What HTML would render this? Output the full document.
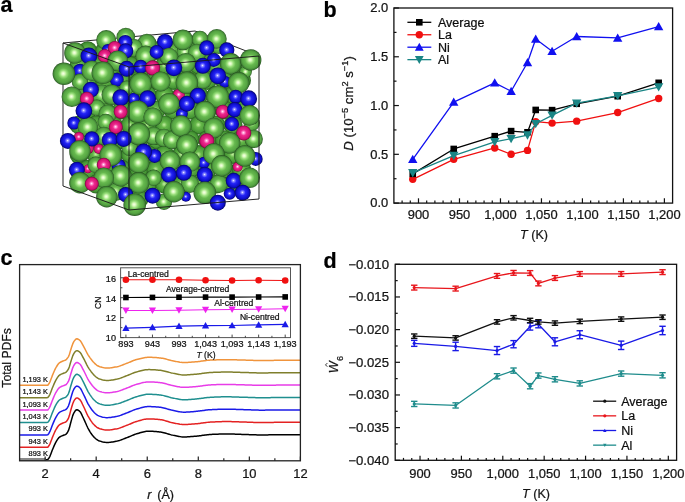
<!DOCTYPE html>
<html><head><meta charset="utf-8"><style>
html,body{margin:0;padding:0;background:#fff;width:685px;height:502px;overflow:hidden}
svg{display:block;font-family:"Liberation Sans", sans-serif;will-change:transform}
text{stroke:currentColor;stroke-width:0.22px}
</style></head><body>
<svg width="685" height="502" viewBox="0 0 685 502">
<defs>
<radialGradient id="gG" cx="0.5" cy="0.5" r="0.5" fx="0.47" fy="0.49"><stop offset="0" stop-color="#f8ffea"/><stop offset="0.13" stop-color="#dcfac0"/><stop offset="0.3" stop-color="#98de7a"/><stop offset="0.5" stop-color="#66b84e"/><stop offset="0.78" stop-color="#55a442"/><stop offset="0.91" stop-color="#418236"/><stop offset="1" stop-color="#24501c"/></radialGradient>
<radialGradient id="gB" cx="0.5" cy="0.5" r="0.5" fx="0.48" fy="0.48"><stop offset="0" stop-color="#f0f0ff"/><stop offset="0.14" stop-color="#8c8cff"/><stop offset="0.38" stop-color="#2424f6"/><stop offset="0.8" stop-color="#0c0cc8"/><stop offset="1" stop-color="#040460"/></radialGradient>
<radialGradient id="gM" cx="0.5" cy="0.5" r="0.5" fx="0.48" fy="0.48"><stop offset="0" stop-color="#fff0fa"/><stop offset="0.15" stop-color="#ff9ad4"/><stop offset="0.38" stop-color="#ee2a8e"/><stop offset="0.8" stop-color="#d21272"/><stop offset="1" stop-color="#700638"/></radialGradient>
<radialGradient id="gGd" cx="0.5" cy="0.5" r="0.5" fx="0.47" fy="0.49"><stop offset="0" stop-color="#c4f0a0"/><stop offset="0.3" stop-color="#66b84a"/><stop offset="0.8" stop-color="#449434"/><stop offset="1" stop-color="#28601e"/></radialGradient>
</defs>
<rect width="685" height="502" fill="#fff"/>
<text x="0.5" y="12" font-size="21.5" font-weight="bold" fill="#000">a</text>
<line x1="63" y1="43" x2="195" y2="31" stroke="#1a1a1a" stroke-width="0.95"/>
<line x1="195" y1="31" x2="259" y2="56" stroke="#1a1a1a" stroke-width="0.95"/>
<line x1="63" y1="43" x2="63" y2="186" stroke="#1a1a1a" stroke-width="0.95"/>
<circle cx="87.7" cy="50.8" r="9.5" fill="url(#gGd)"/>
<circle cx="104.8" cy="50.8" r="9.5" fill="url(#gGd)"/>
<circle cx="121.8" cy="50.8" r="9.5" fill="url(#gGd)"/>
<circle cx="138.9" cy="50.8" r="9.5" fill="url(#gGd)"/>
<circle cx="156.0" cy="50.8" r="9.5" fill="url(#gGd)"/>
<circle cx="173.1" cy="50.8" r="9.5" fill="url(#gGd)"/>
<circle cx="190.2" cy="50.8" r="9.5" fill="url(#gGd)"/>
<circle cx="207.3" cy="50.8" r="9.5" fill="url(#gGd)"/>
<circle cx="79.1" cy="65.6" r="9.5" fill="url(#gGd)"/>
<circle cx="96.2" cy="65.6" r="9.5" fill="url(#gGd)"/>
<circle cx="113.3" cy="65.6" r="9.5" fill="url(#gGd)"/>
<circle cx="130.4" cy="65.6" r="9.5" fill="url(#gGd)"/>
<circle cx="147.5" cy="65.6" r="9.5" fill="url(#gGd)"/>
<circle cx="164.6" cy="65.6" r="9.5" fill="url(#gGd)"/>
<circle cx="181.7" cy="65.6" r="9.5" fill="url(#gGd)"/>
<circle cx="198.8" cy="65.6" r="9.5" fill="url(#gGd)"/>
<circle cx="215.9" cy="65.6" r="9.5" fill="url(#gGd)"/>
<circle cx="233.0" cy="65.6" r="9.5" fill="url(#gGd)"/>
<circle cx="87.7" cy="80.4" r="9.5" fill="url(#gGd)"/>
<circle cx="104.8" cy="80.4" r="9.5" fill="url(#gGd)"/>
<circle cx="121.8" cy="80.4" r="9.5" fill="url(#gGd)"/>
<circle cx="138.9" cy="80.4" r="9.5" fill="url(#gGd)"/>
<circle cx="156.0" cy="80.4" r="9.5" fill="url(#gGd)"/>
<circle cx="173.1" cy="80.4" r="9.5" fill="url(#gGd)"/>
<circle cx="190.2" cy="80.4" r="9.5" fill="url(#gGd)"/>
<circle cx="207.3" cy="80.4" r="9.5" fill="url(#gGd)"/>
<circle cx="224.4" cy="80.4" r="9.5" fill="url(#gGd)"/>
<circle cx="241.5" cy="80.4" r="9.5" fill="url(#gGd)"/>
<circle cx="79.1" cy="95.2" r="9.5" fill="url(#gGd)"/>
<circle cx="96.2" cy="95.2" r="9.5" fill="url(#gGd)"/>
<circle cx="113.3" cy="95.2" r="9.5" fill="url(#gGd)"/>
<circle cx="130.4" cy="95.2" r="9.5" fill="url(#gGd)"/>
<circle cx="147.5" cy="95.2" r="9.5" fill="url(#gGd)"/>
<circle cx="164.6" cy="95.2" r="9.5" fill="url(#gGd)"/>
<circle cx="181.7" cy="95.2" r="9.5" fill="url(#gGd)"/>
<circle cx="198.8" cy="95.2" r="9.5" fill="url(#gGd)"/>
<circle cx="215.9" cy="95.2" r="9.5" fill="url(#gGd)"/>
<circle cx="233.0" cy="95.2" r="9.5" fill="url(#gGd)"/>
<circle cx="87.7" cy="110.0" r="9.5" fill="url(#gGd)"/>
<circle cx="104.8" cy="110.0" r="9.5" fill="url(#gGd)"/>
<circle cx="121.8" cy="110.0" r="9.5" fill="url(#gGd)"/>
<circle cx="138.9" cy="110.0" r="9.5" fill="url(#gGd)"/>
<circle cx="156.0" cy="110.0" r="9.5" fill="url(#gGd)"/>
<circle cx="173.1" cy="110.0" r="9.5" fill="url(#gGd)"/>
<circle cx="190.2" cy="110.0" r="9.5" fill="url(#gGd)"/>
<circle cx="207.3" cy="110.0" r="9.5" fill="url(#gGd)"/>
<circle cx="224.4" cy="110.0" r="9.5" fill="url(#gGd)"/>
<circle cx="241.5" cy="110.0" r="9.5" fill="url(#gGd)"/>
<circle cx="79.1" cy="124.9" r="9.5" fill="url(#gGd)"/>
<circle cx="96.2" cy="124.9" r="9.5" fill="url(#gGd)"/>
<circle cx="113.3" cy="124.9" r="9.5" fill="url(#gGd)"/>
<circle cx="130.4" cy="124.9" r="9.5" fill="url(#gGd)"/>
<circle cx="147.5" cy="124.9" r="9.5" fill="url(#gGd)"/>
<circle cx="164.6" cy="124.9" r="9.5" fill="url(#gGd)"/>
<circle cx="181.7" cy="124.9" r="9.5" fill="url(#gGd)"/>
<circle cx="198.8" cy="124.9" r="9.5" fill="url(#gGd)"/>
<circle cx="215.9" cy="124.9" r="9.5" fill="url(#gGd)"/>
<circle cx="233.0" cy="124.9" r="9.5" fill="url(#gGd)"/>
<circle cx="87.7" cy="139.7" r="9.5" fill="url(#gGd)"/>
<circle cx="104.8" cy="139.7" r="9.5" fill="url(#gGd)"/>
<circle cx="121.8" cy="139.7" r="9.5" fill="url(#gGd)"/>
<circle cx="138.9" cy="139.7" r="9.5" fill="url(#gGd)"/>
<circle cx="156.0" cy="139.7" r="9.5" fill="url(#gGd)"/>
<circle cx="173.1" cy="139.7" r="9.5" fill="url(#gGd)"/>
<circle cx="190.2" cy="139.7" r="9.5" fill="url(#gGd)"/>
<circle cx="207.3" cy="139.7" r="9.5" fill="url(#gGd)"/>
<circle cx="224.4" cy="139.7" r="9.5" fill="url(#gGd)"/>
<circle cx="241.5" cy="139.7" r="9.5" fill="url(#gGd)"/>
<circle cx="79.1" cy="154.5" r="9.5" fill="url(#gGd)"/>
<circle cx="96.2" cy="154.5" r="9.5" fill="url(#gGd)"/>
<circle cx="113.3" cy="154.5" r="9.5" fill="url(#gGd)"/>
<circle cx="130.4" cy="154.5" r="9.5" fill="url(#gGd)"/>
<circle cx="147.5" cy="154.5" r="9.5" fill="url(#gGd)"/>
<circle cx="164.6" cy="154.5" r="9.5" fill="url(#gGd)"/>
<circle cx="181.7" cy="154.5" r="9.5" fill="url(#gGd)"/>
<circle cx="198.8" cy="154.5" r="9.5" fill="url(#gGd)"/>
<circle cx="215.9" cy="154.5" r="9.5" fill="url(#gGd)"/>
<circle cx="233.0" cy="154.5" r="9.5" fill="url(#gGd)"/>
<circle cx="87.7" cy="169.3" r="9.5" fill="url(#gGd)"/>
<circle cx="104.8" cy="169.3" r="9.5" fill="url(#gGd)"/>
<circle cx="121.8" cy="169.3" r="9.5" fill="url(#gGd)"/>
<circle cx="138.9" cy="169.3" r="9.5" fill="url(#gGd)"/>
<circle cx="156.0" cy="169.3" r="9.5" fill="url(#gGd)"/>
<circle cx="173.1" cy="169.3" r="9.5" fill="url(#gGd)"/>
<circle cx="190.2" cy="169.3" r="9.5" fill="url(#gGd)"/>
<circle cx="207.3" cy="169.3" r="9.5" fill="url(#gGd)"/>
<circle cx="224.4" cy="169.3" r="9.5" fill="url(#gGd)"/>
<circle cx="241.5" cy="169.3" r="9.5" fill="url(#gGd)"/>
<circle cx="96.2" cy="184.1" r="9.5" fill="url(#gGd)"/>
<circle cx="113.3" cy="184.1" r="9.5" fill="url(#gGd)"/>
<circle cx="130.4" cy="184.1" r="9.5" fill="url(#gGd)"/>
<circle cx="147.5" cy="184.1" r="9.5" fill="url(#gGd)"/>
<circle cx="164.6" cy="184.1" r="9.5" fill="url(#gGd)"/>
<circle cx="181.7" cy="184.1" r="9.5" fill="url(#gGd)"/>
<circle cx="198.8" cy="184.1" r="9.5" fill="url(#gGd)"/>
<circle cx="215.9" cy="184.1" r="9.5" fill="url(#gGd)"/>
<circle cx="233.0" cy="184.1" r="9.5" fill="url(#gGd)"/>
<circle cx="138.9" cy="198.9" r="9.5" fill="url(#gGd)"/>
<circle cx="106.2" cy="40.0" r="10.0" fill="url(#gG)"/>
<circle cx="125.8" cy="37.0" r="9.3" fill="url(#gG)"/>
<circle cx="146.9" cy="43.2" r="9.4" fill="url(#gG)"/>
<circle cx="107.8" cy="49.9" r="6.0" fill="url(#gB)"/>
<circle cx="133.7" cy="47.9" r="9.2" fill="url(#gG)"/>
<circle cx="79.9" cy="70.8" r="7.0" fill="url(#gB)"/>
<circle cx="79.9" cy="81.8" r="8.2" fill="url(#gG)"/>
<circle cx="116.8" cy="79.8" r="7.0" fill="url(#gB)"/>
<circle cx="156.6" cy="81.8" r="7.2" fill="url(#gG)"/>
<circle cx="101.8" cy="94.7" r="10.3" fill="url(#gG)"/>
<circle cx="126.7" cy="87.8" r="7.2" fill="url(#gG)"/>
<circle cx="133.7" cy="98.7" r="6.0" fill="url(#gB)"/>
<circle cx="96.8" cy="107.7" r="8.2" fill="url(#gG)"/>
<circle cx="107.8" cy="113.7" r="9.2" fill="url(#gG)"/>
<circle cx="73.9" cy="123.0" r="6.6" fill="url(#gB)"/>
<circle cx="165.0" cy="41.9" r="8.0" fill="url(#gB)"/>
<circle cx="199.9" cy="38.9" r="8.2" fill="url(#gG)"/>
<circle cx="218.8" cy="45.9" r="8.2" fill="url(#gG)"/>
<circle cx="184.9" cy="51.9" r="8.2" fill="url(#gG)"/>
<circle cx="169.0" cy="56.9" r="9.2" fill="url(#gG)"/>
<circle cx="196.9" cy="52.9" r="9.2" fill="url(#gG)"/>
<circle cx="213.8" cy="59.9" r="7.0" fill="url(#gB)"/>
<circle cx="224.8" cy="81.8" r="6.0" fill="url(#gB)"/>
<circle cx="202.8" cy="79.8" r="9.2" fill="url(#gG)"/>
<circle cx="245.7" cy="71.8" r="6.2" fill="url(#gG)"/>
<circle cx="178.9" cy="94.7" r="6.0" fill="url(#gM)"/>
<circle cx="181.9" cy="113.7" r="6.0" fill="url(#gB)"/>
<circle cx="87.9" cy="127.0" r="10.3" fill="url(#gG)"/>
<circle cx="105.8" cy="122.0" r="8.2" fill="url(#gG)"/>
<circle cx="153.6" cy="135.9" r="9.2" fill="url(#gG)"/>
<circle cx="78.9" cy="136.9" r="5.0" fill="url(#gM)"/>
<circle cx="103.8" cy="135.9" r="9.2" fill="url(#gG)"/>
<circle cx="87.9" cy="147.9" r="6.0" fill="url(#gM)"/>
<circle cx="98.8" cy="148.9" r="5.0" fill="url(#gM)"/>
<circle cx="129.7" cy="147.9" r="8.2" fill="url(#gG)"/>
<circle cx="154.6" cy="155.9" r="7.0" fill="url(#gB)"/>
<circle cx="87.9" cy="168.8" r="4.4" fill="url(#gM)"/>
<circle cx="95.8" cy="164.8" r="8.2" fill="url(#gG)"/>
<circle cx="118.8" cy="165.8" r="7.0" fill="url(#gB)"/>
<circle cx="153.6" cy="177.8" r="8.2" fill="url(#gG)"/>
<circle cx="115.8" cy="191.7" r="9.2" fill="url(#gG)"/>
<circle cx="164.0" cy="137.9" r="9.2" fill="url(#gG)"/>
<circle cx="251.7" cy="123.0" r="8.2" fill="url(#gG)"/>
<circle cx="253.7" cy="138.9" r="9.2" fill="url(#gG)"/>
<circle cx="172.0" cy="139.9" r="9.2" fill="url(#gG)"/>
<circle cx="255.7" cy="158.9" r="7.0" fill="url(#gB)"/>
<circle cx="203.8" cy="162.8" r="6.0" fill="url(#gB)"/>
<circle cx="237.7" cy="166.8" r="5.0" fill="url(#gM)"/>
<circle cx="218.8" cy="183.8" r="9.2" fill="url(#gG)"/>
<circle cx="189.9" cy="183.8" r="9.2" fill="url(#gG)"/>
<circle cx="229.7" cy="193.7" r="6.0" fill="url(#gB)"/>
<circle cx="164.0" cy="201.7" r="8.2" fill="url(#gG)"/>
<circle cx="185.9" cy="196.7" r="5.0" fill="url(#gB)"/>
<circle cx="231.9" cy="124.0" r="7.2" fill="url(#gB)"/>
<circle cx="125.3" cy="42.2" r="7.2" fill="url(#gB)"/>
<circle cx="114.8" cy="47.9" r="7.0" fill="url(#gM)"/>
<circle cx="125.7" cy="50.9" r="7.6" fill="url(#gB)"/>
<circle cx="74.9" cy="52.9" r="10.7" fill="url(#gG)"/>
<circle cx="88.9" cy="55.9" r="8.4" fill="url(#gB)"/>
<circle cx="104.8" cy="55.9" r="7.0" fill="url(#gM)"/>
<circle cx="117.8" cy="60.9" r="10.3" fill="url(#gG)"/>
<circle cx="145.7" cy="55.9" r="10.3" fill="url(#gG)"/>
<circle cx="156.6" cy="51.9" r="7.0" fill="url(#gB)"/>
<circle cx="63.9" cy="73.8" r="11.3" fill="url(#gG)"/>
<circle cx="91.8" cy="70.8" r="10.3" fill="url(#gG)"/>
<circle cx="102.8" cy="72.8" r="11.3" fill="url(#gG)"/>
<circle cx="126.7" cy="68.8" r="8.0" fill="url(#gB)"/>
<circle cx="140.7" cy="66.8" r="7.0" fill="url(#gB)"/>
<circle cx="152.6" cy="67.8" r="7.6" fill="url(#gM)"/>
<circle cx="140.7" cy="83.8" r="11.3" fill="url(#gG)"/>
<circle cx="90.9" cy="89.7" r="8.0" fill="url(#gB)"/>
<circle cx="71.9" cy="96.7" r="10.3" fill="url(#gG)"/>
<circle cx="111.8" cy="94.7" r="10.3" fill="url(#gG)"/>
<circle cx="86.9" cy="98.7" r="7.0" fill="url(#gM)"/>
<circle cx="120.7" cy="97.7" r="8.4" fill="url(#gB)"/>
<circle cx="147.6" cy="98.7" r="8.4" fill="url(#gB)"/>
<circle cx="137.7" cy="111.7" r="11.3" fill="url(#gG)"/>
<circle cx="83.9" cy="110.7" r="8.4" fill="url(#gB)"/>
<circle cx="120.7" cy="111.7" r="7.0" fill="url(#gM)"/>
<circle cx="152.9" cy="117.0" r="9.5" fill="url(#gG)"/>
<circle cx="182.9" cy="39.9" r="10.3" fill="url(#gG)"/>
<circle cx="216.8" cy="38.9" r="9.9" fill="url(#gG)"/>
<circle cx="206.8" cy="47.9" r="7.6" fill="url(#gB)"/>
<circle cx="226.8" cy="49.9" r="7.6" fill="url(#gB)"/>
<circle cx="185.9" cy="62.8" r="9.9" fill="url(#gG)"/>
<circle cx="173.9" cy="67.8" r="8.4" fill="url(#gB)"/>
<circle cx="202.8" cy="65.8" r="8.0" fill="url(#gB)"/>
<circle cx="230.7" cy="63.8" r="10.7" fill="url(#gG)"/>
<circle cx="250.7" cy="59.9" r="10.7" fill="url(#gG)"/>
<circle cx="217.8" cy="75.8" r="8.4" fill="url(#gB)"/>
<circle cx="160.6" cy="81.5" r="10.0" fill="url(#gG)"/>
<circle cx="186.9" cy="82.8" r="11.3" fill="url(#gG)"/>
<circle cx="238.7" cy="82.8" r="10.7" fill="url(#gG)"/>
<circle cx="197.9" cy="95.7" r="8.0" fill="url(#gB)"/>
<circle cx="217.8" cy="96.7" r="11.3" fill="url(#gG)"/>
<circle cx="235.7" cy="96.7" r="7.0" fill="url(#gB)"/>
<circle cx="248.7" cy="98.7" r="8.4" fill="url(#gB)"/>
<circle cx="169.0" cy="103.7" r="10.7" fill="url(#gG)"/>
<circle cx="186.9" cy="103.7" r="8.0" fill="url(#gB)"/>
<circle cx="204.8" cy="111.7" r="10.7" fill="url(#gG)"/>
<circle cx="222.8" cy="111.7" r="7.0" fill="url(#gM)"/>
<circle cx="234.7" cy="109.7" r="7.6" fill="url(#gB)"/>
<circle cx="249.7" cy="115.4" r="10.3" fill="url(#gG)"/>
<circle cx="115.8" cy="127.0" r="7.0" fill="url(#gM)"/>
<circle cx="138.7" cy="133.9" r="11.3" fill="url(#gG)"/>
<circle cx="67.9" cy="140.9" r="8.0" fill="url(#gB)"/>
<circle cx="91.8" cy="138.9" r="7.6" fill="url(#gB)"/>
<circle cx="109.8" cy="139.9" r="8.0" fill="url(#gB)"/>
<circle cx="123.7" cy="138.9" r="8.0" fill="url(#gB)"/>
<circle cx="79.9" cy="150.9" r="10.7" fill="url(#gG)"/>
<circle cx="110.8" cy="154.9" r="11.3" fill="url(#gG)"/>
<circle cx="143.7" cy="151.9" r="8.4" fill="url(#gB)"/>
<circle cx="76.9" cy="169.8" r="8.0" fill="url(#gB)"/>
<circle cx="103.8" cy="164.8" r="7.0" fill="url(#gM)"/>
<circle cx="138.7" cy="162.8" r="10.7" fill="url(#gG)"/>
<circle cx="120.7" cy="175.8" r="10.7" fill="url(#gG)"/>
<circle cx="103.8" cy="177.8" r="10.3" fill="url(#gG)"/>
<circle cx="79.9" cy="182.8" r="10.7" fill="url(#gG)"/>
<circle cx="91.8" cy="183.8" r="7.0" fill="url(#gM)"/>
<circle cx="138.7" cy="182.8" r="10.7" fill="url(#gG)"/>
<circle cx="106.8" cy="196.7" r="10.7" fill="url(#gG)"/>
<circle cx="125.7" cy="194.7" r="7.6" fill="url(#gB)"/>
<circle cx="152.6" cy="195.7" r="8.0" fill="url(#gB)"/>
<circle cx="134.7" cy="204.7" r="11.3" fill="url(#gG)"/>
<circle cx="180.9" cy="126.0" r="10.7" fill="url(#gG)"/>
<circle cx="213.8" cy="128.0" r="10.3" fill="url(#gG)"/>
<circle cx="243.7" cy="133.0" r="7.6" fill="url(#gM)"/>
<circle cx="186.9" cy="144.9" r="10.7" fill="url(#gG)"/>
<circle cx="206.8" cy="140.9" r="7.6" fill="url(#gM)"/>
<circle cx="229.7" cy="142.9" r="10.7" fill="url(#gG)"/>
<circle cx="213.8" cy="153.9" r="10.7" fill="url(#gG)"/>
<circle cx="244.7" cy="155.9" r="10.7" fill="url(#gG)"/>
<circle cx="170.0" cy="160.9" r="10.3" fill="url(#gG)"/>
<circle cx="189.9" cy="161.8" r="10.3" fill="url(#gG)"/>
<circle cx="221.8" cy="165.8" r="10.7" fill="url(#gG)"/>
<circle cx="169.0" cy="174.8" r="8.0" fill="url(#gB)"/>
<circle cx="183.9" cy="172.8" r="8.0" fill="url(#gB)"/>
<circle cx="204.8" cy="174.8" r="8.0" fill="url(#gB)"/>
<circle cx="233.7" cy="180.8" r="8.0" fill="url(#gB)"/>
<circle cx="249.7" cy="177.8" r="10.3" fill="url(#gG)"/>
<circle cx="173.9" cy="191.7" r="10.7" fill="url(#gG)"/>
<circle cx="204.8" cy="192.7" r="11.3" fill="url(#gG)"/>
<circle cx="242.7" cy="192.7" r="8.0" fill="url(#gB)"/>
<circle cx="217.8" cy="202.7" r="8.0" fill="url(#gB)"/>
<line x1="259" y1="56" x2="129" y2="67" stroke="#1a1a1a" stroke-width="0.95"/>
<line x1="129" y1="67" x2="63" y2="43" stroke="#1a1a1a" stroke-width="0.95"/>
<line x1="129" y1="67" x2="129" y2="210" stroke="#1a1a1a" stroke-width="0.95"/>
<line x1="259" y1="56" x2="259" y2="199" stroke="#1a1a1a" stroke-width="0.95"/>
<line x1="63" y1="186" x2="129" y2="210" stroke="#1a1a1a" stroke-width="0.95"/>
<line x1="129" y1="210" x2="259" y2="199" stroke="#1a1a1a" stroke-width="0.95"/>
<text x="323.5" y="16.5" font-size="21.5" font-weight="bold" fill="#000">b</text>
<polyline points="412.75,159.3 453.74,102.14 494.72,82.82 511.12,91.21 527.51,62.53 535.71,39.02 552.1,51.21 576.69,36.48 617.68,37.95 658.66,26.53" fill="none" stroke="#1010f0" stroke-width="1.3" stroke-linejoin="round"/>
<polygon points="408.05,163.04 417.45,163.04 412.75,154.74" fill="#1010f0"/>
<polygon points="449.04,105.87 458.44,105.87 453.74,97.57" fill="#1010f0"/>
<polygon points="490.02,86.56 499.42,86.56 494.72,78.26" fill="#1010f0"/>
<polygon points="506.42,94.95 515.82,94.95 511.12,86.65" fill="#1010f0"/>
<polygon points="522.81,66.27 532.21,66.27 527.51,57.97" fill="#1010f0"/>
<polygon points="531.01,42.76 540.41,42.76 535.71,34.46" fill="#1010f0"/>
<polygon points="547.4,54.95 556.8,54.95 552.1,46.65" fill="#1010f0"/>
<polygon points="571.99,40.22 581.39,40.22 576.69,31.92" fill="#1010f0"/>
<polygon points="612.98,41.68 622.38,41.68 617.68,33.38" fill="#1010f0"/>
<polygon points="653.96,30.27 663.37,30.27 658.66,21.97" fill="#1010f0"/>
<polyline points="412.75,179.3 453.74,159.3 494.72,147.98 511.12,154.32 527.51,150.42 535.71,121.65 552.1,123.11 576.69,121.16 617.68,112.57 658.66,98.43" fill="none" stroke="#f01010" stroke-width="1.3" stroke-linejoin="round"/>
<circle cx="412.75" cy="179.3" r="3.7" fill="#f01010"/>
<circle cx="453.74" cy="159.3" r="3.7" fill="#f01010"/>
<circle cx="494.72" cy="147.98" r="3.7" fill="#f01010"/>
<circle cx="511.12" cy="154.32" r="3.7" fill="#f01010"/>
<circle cx="527.51" cy="150.42" r="3.7" fill="#f01010"/>
<circle cx="535.71" cy="121.65" r="3.7" fill="#f01010"/>
<circle cx="552.1" cy="123.11" r="3.7" fill="#f01010"/>
<circle cx="576.69" cy="121.16" r="3.7" fill="#f01010"/>
<circle cx="617.68" cy="112.57" r="3.7" fill="#f01010"/>
<circle cx="658.66" cy="98.43" r="3.7" fill="#f01010"/>
<polyline points="412.75,173.84 453.74,148.96 494.72,136.18 511.12,131.11 527.51,132.28 535.71,109.94 552.1,110.13 576.69,103.79 617.68,96.19 658.66,82.82" fill="none" stroke="#000" stroke-width="1.3" stroke-linejoin="round"/>
<rect x="409.45" y="170.53" width="6.6" height="6.6" fill="#000"/>
<rect x="450.44" y="145.66" width="6.6" height="6.6" fill="#000"/>
<rect x="491.42" y="132.88" width="6.6" height="6.6" fill="#000"/>
<rect x="507.82" y="127.81" width="6.6" height="6.6" fill="#000"/>
<rect x="524.21" y="128.98" width="6.6" height="6.6" fill="#000"/>
<rect x="532.41" y="106.64" width="6.6" height="6.6" fill="#000"/>
<rect x="548.8" y="106.83" width="6.6" height="6.6" fill="#000"/>
<rect x="573.39" y="100.49" width="6.6" height="6.6" fill="#000"/>
<rect x="614.38" y="92.89" width="6.6" height="6.6" fill="#000"/>
<rect x="655.37" y="79.52" width="6.6" height="6.6" fill="#000"/>
<polyline points="412.75,172.86 453.74,155.59 494.72,141.84 511.12,138.72 527.51,135.11 535.71,123.79 552.1,115.3 576.69,103.11 617.68,95.79 658.66,87.02" fill="none" stroke="#1a8585" stroke-width="1.3" stroke-linejoin="round"/>
<polygon points="408.05,169.12 417.45,169.12 412.75,177.42" fill="#1a8585"/>
<polygon points="449.04,151.86 458.44,151.86 453.74,160.16" fill="#1a8585"/>
<polygon points="490.02,138.1 499.42,138.1 494.72,146.4" fill="#1a8585"/>
<polygon points="506.42,134.98 515.82,134.98 511.12,143.28" fill="#1a8585"/>
<polygon points="522.81,131.37 532.21,131.37 527.51,139.67" fill="#1a8585"/>
<polygon points="531.01,120.06 540.41,120.06 535.71,128.36" fill="#1a8585"/>
<polygon points="547.4,111.57 556.8,111.57 552.1,119.87" fill="#1a8585"/>
<polygon points="571.99,99.38 581.39,99.38 576.69,107.68" fill="#1a8585"/>
<polygon points="612.98,92.06 622.38,92.06 617.68,100.36" fill="#1a8585"/>
<polygon points="653.96,83.28 663.37,83.28 658.66,91.58" fill="#1a8585"/>
<rect x="393.9" y="8.0" width="278.7" height="195.1" fill="none" stroke="#111" stroke-width="1.3"/>
<line x1="402.1" y1="203.1" x2="402.1" y2="200.5" stroke="#111" stroke-width="1.2"/>
<line x1="410.29" y1="203.1" x2="410.29" y2="200.5" stroke="#111" stroke-width="1.2"/>
<line x1="418.49" y1="203.1" x2="418.49" y2="198.3" stroke="#111" stroke-width="1.2"/>
<line x1="426.69" y1="203.1" x2="426.69" y2="200.5" stroke="#111" stroke-width="1.2"/>
<line x1="434.89" y1="203.1" x2="434.89" y2="200.5" stroke="#111" stroke-width="1.2"/>
<line x1="443.08" y1="203.1" x2="443.08" y2="200.5" stroke="#111" stroke-width="1.2"/>
<line x1="451.28" y1="203.1" x2="451.28" y2="200.5" stroke="#111" stroke-width="1.2"/>
<line x1="459.48" y1="203.1" x2="459.48" y2="198.3" stroke="#111" stroke-width="1.2"/>
<line x1="467.67" y1="203.1" x2="467.67" y2="200.5" stroke="#111" stroke-width="1.2"/>
<line x1="475.87" y1="203.1" x2="475.87" y2="200.5" stroke="#111" stroke-width="1.2"/>
<line x1="484.07" y1="203.1" x2="484.07" y2="200.5" stroke="#111" stroke-width="1.2"/>
<line x1="492.26" y1="203.1" x2="492.26" y2="200.5" stroke="#111" stroke-width="1.2"/>
<line x1="500.46" y1="203.1" x2="500.46" y2="198.3" stroke="#111" stroke-width="1.2"/>
<line x1="508.66" y1="203.1" x2="508.66" y2="200.5" stroke="#111" stroke-width="1.2"/>
<line x1="516.86" y1="203.1" x2="516.86" y2="200.5" stroke="#111" stroke-width="1.2"/>
<line x1="525.05" y1="203.1" x2="525.05" y2="200.5" stroke="#111" stroke-width="1.2"/>
<line x1="533.25" y1="203.1" x2="533.25" y2="200.5" stroke="#111" stroke-width="1.2"/>
<line x1="541.45" y1="203.1" x2="541.45" y2="198.3" stroke="#111" stroke-width="1.2"/>
<line x1="549.64" y1="203.1" x2="549.64" y2="200.5" stroke="#111" stroke-width="1.2"/>
<line x1="557.84" y1="203.1" x2="557.84" y2="200.5" stroke="#111" stroke-width="1.2"/>
<line x1="566.04" y1="203.1" x2="566.04" y2="200.5" stroke="#111" stroke-width="1.2"/>
<line x1="574.24" y1="203.1" x2="574.24" y2="200.5" stroke="#111" stroke-width="1.2"/>
<line x1="582.43" y1="203.1" x2="582.43" y2="198.3" stroke="#111" stroke-width="1.2"/>
<line x1="590.63" y1="203.1" x2="590.63" y2="200.5" stroke="#111" stroke-width="1.2"/>
<line x1="598.83" y1="203.1" x2="598.83" y2="200.5" stroke="#111" stroke-width="1.2"/>
<line x1="607.02" y1="203.1" x2="607.02" y2="200.5" stroke="#111" stroke-width="1.2"/>
<line x1="615.22" y1="203.1" x2="615.22" y2="200.5" stroke="#111" stroke-width="1.2"/>
<line x1="623.42" y1="203.1" x2="623.42" y2="198.3" stroke="#111" stroke-width="1.2"/>
<line x1="631.61" y1="203.1" x2="631.61" y2="200.5" stroke="#111" stroke-width="1.2"/>
<line x1="639.81" y1="203.1" x2="639.81" y2="200.5" stroke="#111" stroke-width="1.2"/>
<line x1="648.01" y1="203.1" x2="648.01" y2="200.5" stroke="#111" stroke-width="1.2"/>
<line x1="656.21" y1="203.1" x2="656.21" y2="200.5" stroke="#111" stroke-width="1.2"/>
<line x1="664.4" y1="203.1" x2="664.4" y2="198.3" stroke="#111" stroke-width="1.2"/>
<text transform="translate(418.49,218.60) scale(1.06,1)" font-size="12.2" text-anchor="middle" fill="#1a1a1a">900</text>
<text transform="translate(459.48,218.60) scale(1.06,1)" font-size="12.2" text-anchor="middle" fill="#1a1a1a">950</text>
<text transform="translate(500.46,218.60) scale(1.06,1)" font-size="12.2" text-anchor="middle" fill="#1a1a1a">1,000</text>
<text transform="translate(541.45,218.60) scale(1.06,1)" font-size="12.2" text-anchor="middle" fill="#1a1a1a">1,050</text>
<text transform="translate(582.43,218.60) scale(1.06,1)" font-size="12.2" text-anchor="middle" fill="#1a1a1a">1,100</text>
<text transform="translate(623.42,218.60) scale(1.06,1)" font-size="12.2" text-anchor="middle" fill="#1a1a1a">1,150</text>
<text transform="translate(664.40,218.60) scale(1.06,1)" font-size="12.2" text-anchor="middle" fill="#1a1a1a">1,200</text>
<line x1="393.9" y1="203.1" x2="398.9" y2="203.1" stroke="#111" stroke-width="1.2"/>
<text transform="translate(388.20,207.40) scale(1.06,1)" font-size="12.2" text-anchor="end" fill="#1a1a1a">0.0</text>
<line x1="393.9" y1="178.71" x2="396.5" y2="178.71" stroke="#111" stroke-width="1.2"/>
<line x1="393.9" y1="154.32" x2="398.9" y2="154.32" stroke="#111" stroke-width="1.2"/>
<text transform="translate(388.20,158.62) scale(1.06,1)" font-size="12.2" text-anchor="end" fill="#1a1a1a">0.5</text>
<line x1="393.9" y1="129.94" x2="396.5" y2="129.94" stroke="#111" stroke-width="1.2"/>
<line x1="393.9" y1="105.55" x2="398.9" y2="105.55" stroke="#111" stroke-width="1.2"/>
<text transform="translate(388.20,109.85) scale(1.06,1)" font-size="12.2" text-anchor="end" fill="#1a1a1a">1.0</text>
<line x1="393.9" y1="81.16" x2="396.5" y2="81.16" stroke="#111" stroke-width="1.2"/>
<line x1="393.9" y1="56.78" x2="398.9" y2="56.78" stroke="#111" stroke-width="1.2"/>
<text transform="translate(388.20,61.08) scale(1.06,1)" font-size="12.2" text-anchor="end" fill="#1a1a1a">1.5</text>
<line x1="393.9" y1="32.39" x2="396.5" y2="32.39" stroke="#111" stroke-width="1.2"/>
<line x1="393.9" y1="8" x2="398.9" y2="8" stroke="#111" stroke-width="1.2"/>
<text transform="translate(388.20,12.30) scale(1.06,1)" font-size="12.2" text-anchor="end" fill="#1a1a1a">2.0</text>
<text x="534" y="238.5" font-size="12.5" text-anchor="middle" fill="#1a1a1a"><tspan font-style="italic">T</tspan> (K)</text>
<text transform="translate(353.2,103.4) rotate(-90)" font-size="13.2" text-anchor="middle" fill="#1a1a1a"><tspan font-style="italic">D</tspan>&#160;(10<tspan dy="-5" font-size="9.3">&#8722;5</tspan><tspan dy="5"> cm</tspan><tspan dy="-5" font-size="9.3">2</tspan><tspan dy="5"> s</tspan><tspan dy="-5" font-size="9.3">&#8722;1</tspan><tspan dy="5">)</tspan></text>
<line x1="407.4" y1="22.3" x2="431.3" y2="22.3" stroke="#000" stroke-width="1.3"/>
<rect x="416" y="19" width="6.6" height="6.6" fill="#000"/>
<text x="438" y="26.7" font-size="12.5" fill="#111">Average</text>
<line x1="407.4" y1="34.75" x2="431.3" y2="34.75" stroke="#f01010" stroke-width="1.3"/>
<circle cx="419.3" cy="34.75" r="3.7" fill="#f01010"/>
<text x="438" y="39.15" font-size="12.5" fill="#111">La</text>
<line x1="407.4" y1="47.2" x2="431.3" y2="47.2" stroke="#1010f0" stroke-width="1.3"/>
<polygon points="414.9,50.8 423.7,50.8 419.3,42.8" fill="#1010f0"/>
<text x="438" y="51.6" font-size="12.5" fill="#111">Ni</text>
<line x1="407.4" y1="59.65" x2="431.3" y2="59.65" stroke="#1a8585" stroke-width="1.3"/>
<polygon points="414.9,56.05 423.7,56.05 419.3,64.05" fill="#1a8585"/>
<text x="438" y="64.05" font-size="12.5" fill="#111">Al</text>
<text x="0.5" y="265" font-size="21.5" font-weight="bold" fill="#000">c</text>
<path d="M19.60,459.70 L20.68,459.70 L21.77,459.70 L22.85,459.70 L23.94,459.70 L25.02,459.70 L26.11,459.70 L27.19,459.70 L28.27,459.70 L29.36,459.70 L30.44,459.70 L31.53,459.70 L32.61,459.70 L33.69,459.70 L34.78,459.70 L35.86,459.70 L36.95,459.70 L38.03,459.70 L39.12,459.70 L40.20,459.70 L41.28,459.70 L42.37,459.70 L43.45,459.70 L44.54,459.70 L45.62,459.70 L46.70,459.70 L47.79,459.57 L48.87,458.22 L49.96,456.27 L51.04,453.46 L52.13,450.56 L53.21,447.96 L54.29,445.39 L55.38,443.07 L56.46,441.15 L57.55,439.39 L58.63,437.94 L59.71,437.00 L60.80,436.39 L61.88,435.91 L62.97,435.46 L64.05,435.06 L65.14,434.68 L66.22,434.08 L67.30,432.74 L68.39,430.68 L69.47,427.57 L70.56,423.20 L71.64,419.33 L72.72,415.65 L73.81,413.05 L74.89,411.30 L75.98,410.03 L77.06,409.72 L78.15,410.14 L79.23,410.93 L80.31,411.97 L81.40,413.83 L82.48,416.19 L83.57,418.50 L84.65,420.84 L85.73,423.32 L86.82,425.78 L87.90,428.05 L88.99,430.00 L90.07,431.83 L91.16,433.53 L92.24,435.06 L93.32,436.38 L94.41,437.49 L95.49,438.53 L96.58,439.45 L97.66,440.19 L98.74,440.70 L99.83,441.07 L100.91,441.40 L102.00,441.71 L103.08,441.97 L104.17,442.18 L105.25,442.34 L106.33,442.43 L107.42,442.45 L108.50,442.41 L109.59,442.33 L110.67,442.22 L111.75,442.07 L112.84,441.90 L113.92,441.71 L115.01,441.50 L116.09,441.30 L117.18,441.08 L118.26,440.82 L119.34,440.50 L120.43,440.14 L121.51,439.75 L122.60,439.34 L123.68,438.91 L124.76,438.48 L125.85,438.06 L126.93,437.66 L128.02,437.24 L129.10,436.80 L130.19,436.34 L131.27,435.87 L132.35,435.41 L133.44,434.96 L134.52,434.54 L135.61,434.14 L136.69,433.80 L137.77,433.49 L138.86,433.16 L139.94,432.84 L141.03,432.52 L142.11,432.22 L143.20,431.94 L144.28,431.69 L145.36,431.48 L146.45,431.33 L147.53,431.23 L148.62,431.20 L149.70,431.21 L150.78,431.24 L151.87,431.28 L152.95,431.34 L154.04,431.41 L155.12,431.49 L156.21,431.58 L157.29,431.68 L158.37,431.79 L159.46,431.89 L160.54,432.01 L161.63,432.19 L162.71,432.41 L163.79,432.68 L164.88,432.98 L165.96,433.30 L167.05,433.64 L168.13,433.98 L169.22,434.30 L170.30,434.61 L171.38,434.90 L172.47,435.14 L173.55,435.36 L174.64,435.58 L175.72,435.81 L176.80,436.04 L177.89,436.25 L178.97,436.45 L180.06,436.63 L181.14,436.77 L182.23,436.88 L183.31,436.94 L184.39,436.95 L185.48,436.93 L186.56,436.89 L187.65,436.84 L188.73,436.77 L189.81,436.70 L190.90,436.61 L191.98,436.52 L193.07,436.43 L194.15,436.33 L195.24,436.24 L196.32,436.15 L197.40,436.04 L198.49,435.92 L199.57,435.79 L200.66,435.65 L201.74,435.50 L202.82,435.35 L203.91,435.20 L204.99,435.05 L206.08,434.91 L207.16,434.78 L208.25,434.67 L209.33,434.57 L210.41,434.49 L211.50,434.43 L212.58,434.37 L213.67,434.32 L214.75,434.27 L215.83,434.22 L216.92,434.17 L218.00,434.13 L219.09,434.09 L220.17,434.05 L221.26,434.02 L222.34,434.00 L223.42,433.98 L224.51,433.96 L225.59,433.95 L226.68,433.95 L227.76,433.96 L228.84,433.97 L229.93,433.99 L231.01,434.01 L232.10,434.04 L233.18,434.07 L234.27,434.10 L235.35,434.14 L236.43,434.18 L237.52,434.22 L238.60,434.26 L239.69,434.30 L240.77,434.34 L241.85,434.38 L242.94,434.41 L244.02,434.44 L245.11,434.48 L246.19,434.51 L247.28,434.55 L248.36,434.59 L249.44,434.63 L250.53,434.67 L251.61,434.71 L252.70,434.75 L253.78,434.78 L254.86,434.82 L255.95,434.85 L257.03,434.88 L258.12,434.91 L259.20,434.93 L260.29,434.94 L261.37,434.95 L262.45,434.95 L263.54,434.95 L264.62,434.94 L265.71,434.92 L266.79,434.91 L267.87,434.89 L268.96,434.87 L270.04,434.85 L271.13,434.82 L272.21,434.80 L273.30,434.78 L274.38,434.76 L275.46,434.74 L276.55,434.72 L277.63,434.71 L278.72,434.70 L279.80,434.70 L280.88,434.70 L281.97,434.70 L283.05,434.70 L284.14,434.70 L285.22,434.70 L286.31,434.70 L287.39,434.70 L288.47,434.70 L289.56,434.70 L290.64,434.70 L291.73,434.70 L292.81,434.70 L293.89,434.70 L294.98,434.70 L296.06,434.70 L297.15,434.70 L298.23,434.70 L299.32,434.70 L300.40,434.70" fill="none" stroke="#000" stroke-width="1.5" stroke-linejoin="round"/>
<path d="M19.60,447.30 L20.68,447.30 L21.77,447.30 L22.85,447.30 L23.94,447.30 L25.02,447.30 L26.11,447.30 L27.19,447.30 L28.27,447.30 L29.36,447.30 L30.44,447.30 L31.53,447.30 L32.61,447.30 L33.69,447.30 L34.78,447.30 L35.86,447.30 L36.95,447.30 L38.03,447.30 L39.12,447.30 L40.20,447.30 L41.28,447.30 L42.37,447.30 L43.45,447.30 L44.54,447.30 L45.62,447.30 L46.70,447.30 L47.79,447.17 L48.87,445.82 L49.96,443.87 L51.04,441.06 L52.13,438.16 L53.21,435.56 L54.29,432.99 L55.38,430.67 L56.46,428.75 L57.55,426.99 L58.63,425.54 L59.71,424.60 L60.80,423.99 L61.88,423.51 L62.97,423.06 L64.05,422.66 L65.14,422.28 L66.22,421.68 L67.30,420.34 L68.39,418.38 L69.47,415.33 L70.56,411.07 L71.64,407.28 L72.72,403.70 L73.81,401.15 L74.89,399.44 L75.98,398.21 L77.06,397.90 L78.15,398.31 L79.23,399.08 L80.31,400.10 L81.40,401.92 L82.48,404.22 L83.57,406.48 L84.65,408.76 L85.73,411.19 L86.82,413.59 L87.90,415.80 L88.99,417.71 L90.07,419.50 L91.16,421.16 L92.24,422.66 L93.32,423.98 L94.41,425.09 L95.49,426.13 L96.58,427.05 L97.66,427.79 L98.74,428.30 L99.83,428.67 L100.91,429.00 L102.00,429.31 L103.08,429.57 L104.17,429.78 L105.25,429.94 L106.33,430.03 L107.42,430.05 L108.50,430.01 L109.59,429.93 L110.67,429.82 L111.75,429.67 L112.84,429.50 L113.92,429.31 L115.01,429.10 L116.09,428.90 L117.18,428.68 L118.26,428.42 L119.34,428.10 L120.43,427.74 L121.51,427.35 L122.60,426.94 L123.68,426.51 L124.76,426.08 L125.85,425.66 L126.93,425.26 L128.02,424.84 L129.10,424.40 L130.19,423.94 L131.27,423.47 L132.35,423.01 L133.44,422.56 L134.52,422.14 L135.61,421.76 L136.69,421.42 L137.77,421.11 L138.86,420.80 L139.94,420.48 L141.03,420.17 L142.11,419.88 L143.20,419.60 L144.28,419.36 L145.36,419.16 L146.45,419.01 L147.53,418.91 L148.62,418.88 L149.70,418.89 L150.78,418.92 L151.87,418.96 L152.95,419.02 L154.04,419.09 L155.12,419.17 L156.21,419.26 L157.29,419.35 L158.37,419.45 L159.46,419.56 L160.54,419.68 L161.63,419.85 L162.71,420.07 L163.79,420.33 L164.88,420.62 L165.96,420.94 L167.05,421.26 L168.13,421.59 L169.22,421.91 L170.30,422.22 L171.38,422.50 L172.47,422.74 L173.55,422.96 L174.64,423.18 L175.72,423.41 L176.80,423.64 L177.89,423.85 L178.97,424.05 L180.06,424.23 L181.14,424.37 L182.23,424.48 L183.31,424.54 L184.39,424.55 L185.48,424.53 L186.56,424.49 L187.65,424.44 L188.73,424.37 L189.81,424.30 L190.90,424.21 L191.98,424.12 L193.07,424.03 L194.15,423.93 L195.24,423.84 L196.32,423.75 L197.40,423.64 L198.49,423.52 L199.57,423.39 L200.66,423.25 L201.74,423.10 L202.82,422.95 L203.91,422.80 L204.99,422.65 L206.08,422.51 L207.16,422.38 L208.25,422.27 L209.33,422.17 L210.41,422.09 L211.50,422.03 L212.58,421.98 L213.67,421.93 L214.75,421.88 L215.83,421.83 L216.92,421.79 L218.00,421.74 L219.09,421.70 L220.17,421.67 L221.26,421.64 L222.34,421.61 L223.42,421.59 L224.51,421.58 L225.59,421.57 L226.68,421.57 L227.76,421.57 L228.84,421.58 L229.93,421.60 L231.01,421.62 L232.10,421.65 L233.18,421.68 L234.27,421.72 L235.35,421.75 L236.43,421.79 L237.52,421.83 L238.60,421.87 L239.69,421.91 L240.77,421.95 L241.85,421.98 L242.94,422.02 L244.02,422.05 L245.11,422.08 L246.19,422.11 L247.28,422.15 L248.36,422.19 L249.44,422.23 L250.53,422.27 L251.61,422.31 L252.70,422.35 L253.78,422.38 L254.86,422.42 L255.95,422.45 L257.03,422.48 L258.12,422.51 L259.20,422.53 L260.29,422.54 L261.37,422.55 L262.45,422.55 L263.54,422.55 L264.62,422.54 L265.71,422.52 L266.79,422.51 L267.87,422.49 L268.96,422.47 L270.04,422.45 L271.13,422.42 L272.21,422.40 L273.30,422.38 L274.38,422.36 L275.46,422.34 L276.55,422.32 L277.63,422.31 L278.72,422.30 L279.80,422.30 L280.88,422.30 L281.97,422.30 L283.05,422.30 L284.14,422.30 L285.22,422.30 L286.31,422.30 L287.39,422.30 L288.47,422.30 L289.56,422.30 L290.64,422.30 L291.73,422.30 L292.81,422.30 L293.89,422.30 L294.98,422.30 L296.06,422.30 L297.15,422.30 L298.23,422.30 L299.32,422.30 L300.40,422.30" fill="none" stroke="#e42222" stroke-width="1.5" stroke-linejoin="round"/>
<path d="M19.60,434.90 L20.68,434.90 L21.77,434.90 L22.85,434.90 L23.94,434.90 L25.02,434.90 L26.11,434.90 L27.19,434.90 L28.27,434.90 L29.36,434.90 L30.44,434.90 L31.53,434.90 L32.61,434.90 L33.69,434.90 L34.78,434.90 L35.86,434.90 L36.95,434.90 L38.03,434.90 L39.12,434.90 L40.20,434.90 L41.28,434.90 L42.37,434.90 L43.45,434.90 L44.54,434.90 L45.62,434.90 L46.70,434.90 L47.79,434.77 L48.87,433.42 L49.96,431.47 L51.04,428.66 L52.13,425.76 L53.21,423.16 L54.29,420.59 L55.38,418.27 L56.46,416.35 L57.55,414.59 L58.63,413.14 L59.71,412.20 L60.80,411.59 L61.88,411.11 L62.97,410.66 L64.05,410.26 L65.14,409.88 L66.22,409.28 L67.30,407.94 L68.39,406.07 L69.47,403.10 L70.56,398.94 L71.64,395.24 L72.72,391.74 L73.81,389.26 L74.89,387.59 L75.98,386.39 L77.06,386.09 L78.15,386.49 L79.23,387.24 L80.31,388.23 L81.40,390.01 L82.48,392.25 L83.57,394.46 L84.65,396.69 L85.73,399.05 L86.82,401.39 L87.90,403.56 L88.99,405.42 L90.07,407.16 L91.16,408.79 L92.24,410.26 L93.32,411.58 L94.41,412.69 L95.49,413.73 L96.58,414.65 L97.66,415.39 L98.74,415.90 L99.83,416.27 L100.91,416.60 L102.00,416.91 L103.08,417.17 L104.17,417.38 L105.25,417.54 L106.33,417.63 L107.42,417.65 L108.50,417.61 L109.59,417.53 L110.67,417.42 L111.75,417.27 L112.84,417.10 L113.92,416.91 L115.01,416.70 L116.09,416.50 L117.18,416.28 L118.26,416.02 L119.34,415.70 L120.43,415.34 L121.51,414.95 L122.60,414.54 L123.68,414.11 L124.76,413.68 L125.85,413.26 L126.93,412.86 L128.02,412.44 L129.10,412.00 L130.19,411.54 L131.27,411.07 L132.35,410.61 L133.44,410.16 L134.52,409.74 L135.61,409.37 L136.69,409.04 L137.77,408.74 L138.86,408.44 L139.94,408.13 L141.03,407.82 L142.11,407.54 L143.20,407.27 L144.28,407.03 L145.36,406.83 L146.45,406.69 L147.53,406.59 L148.62,406.56 L149.70,406.57 L150.78,406.60 L151.87,406.64 L152.95,406.70 L154.04,406.77 L155.12,406.84 L156.21,406.93 L157.29,407.02 L158.37,407.12 L159.46,407.23 L160.54,407.34 L161.63,407.50 L162.71,407.72 L163.79,407.98 L164.88,408.26 L165.96,408.57 L167.05,408.89 L168.13,409.21 L169.22,409.52 L170.30,409.82 L171.38,410.10 L172.47,410.34 L173.55,410.56 L174.64,410.78 L175.72,411.01 L176.80,411.24 L177.89,411.45 L178.97,411.65 L180.06,411.83 L181.14,411.97 L182.23,412.08 L183.31,412.14 L184.39,412.15 L185.48,412.13 L186.56,412.09 L187.65,412.04 L188.73,411.97 L189.81,411.90 L190.90,411.81 L191.98,411.72 L193.07,411.63 L194.15,411.53 L195.24,411.44 L196.32,411.35 L197.40,411.24 L198.49,411.12 L199.57,410.99 L200.66,410.85 L201.74,410.70 L202.82,410.55 L203.91,410.40 L204.99,410.25 L206.08,410.11 L207.16,409.98 L208.25,409.87 L209.33,409.77 L210.41,409.70 L211.50,409.64 L212.58,409.59 L213.67,409.54 L214.75,409.49 L215.83,409.44 L216.92,409.40 L218.00,409.36 L219.09,409.32 L220.17,409.28 L221.26,409.25 L222.34,409.23 L223.42,409.21 L224.51,409.19 L225.59,409.19 L226.68,409.19 L227.76,409.19 L228.84,409.20 L229.93,409.22 L231.01,409.24 L232.10,409.27 L233.18,409.30 L234.27,409.33 L235.35,409.37 L236.43,409.40 L237.52,409.44 L238.60,409.48 L239.69,409.52 L240.77,409.55 L241.85,409.59 L242.94,409.62 L244.02,409.66 L245.11,409.69 L246.19,409.72 L247.28,409.75 L248.36,409.79 L249.44,409.83 L250.53,409.87 L251.61,409.91 L252.70,409.95 L253.78,409.98 L254.86,410.02 L255.95,410.05 L257.03,410.08 L258.12,410.11 L259.20,410.13 L260.29,410.14 L261.37,410.15 L262.45,410.15 L263.54,410.15 L264.62,410.14 L265.71,410.12 L266.79,410.11 L267.87,410.09 L268.96,410.07 L270.04,410.05 L271.13,410.02 L272.21,410.00 L273.30,409.98 L274.38,409.96 L275.46,409.94 L276.55,409.92 L277.63,409.91 L278.72,409.90 L279.80,409.90 L280.88,409.90 L281.97,409.90 L283.05,409.90 L284.14,409.90 L285.22,409.90 L286.31,409.90 L287.39,409.90 L288.47,409.90 L289.56,409.90 L290.64,409.90 L291.73,409.90 L292.81,409.90 L293.89,409.90 L294.98,409.90 L296.06,409.90 L297.15,409.90 L298.23,409.90 L299.32,409.90 L300.40,409.90" fill="none" stroke="#1a1ae8" stroke-width="1.5" stroke-linejoin="round"/>
<path d="M19.60,422.50 L20.68,422.50 L21.77,422.50 L22.85,422.50 L23.94,422.50 L25.02,422.50 L26.11,422.50 L27.19,422.50 L28.27,422.50 L29.36,422.50 L30.44,422.50 L31.53,422.50 L32.61,422.50 L33.69,422.50 L34.78,422.50 L35.86,422.50 L36.95,422.50 L38.03,422.50 L39.12,422.50 L40.20,422.50 L41.28,422.50 L42.37,422.50 L43.45,422.50 L44.54,422.50 L45.62,422.50 L46.70,422.50 L47.79,422.37 L48.87,421.02 L49.96,419.07 L51.04,416.26 L52.13,413.36 L53.21,410.76 L54.29,408.19 L55.38,405.87 L56.46,403.95 L57.55,402.19 L58.63,400.74 L59.71,399.80 L60.80,399.19 L61.88,398.71 L62.97,398.26 L64.05,397.86 L65.14,397.48 L66.22,396.88 L67.30,395.54 L68.39,393.77 L69.47,390.87 L70.56,386.81 L71.64,383.20 L72.72,379.78 L73.81,377.36 L74.89,375.74 L75.98,374.56 L77.06,374.27 L78.15,374.66 L79.23,375.39 L80.31,376.36 L81.40,378.09 L82.48,380.28 L83.57,382.43 L84.65,384.61 L85.73,386.92 L86.82,389.20 L87.90,391.31 L88.99,393.13 L90.07,394.83 L91.16,396.41 L92.24,397.86 L93.32,399.18 L94.41,400.29 L95.49,401.33 L96.58,402.25 L97.66,402.99 L98.74,403.50 L99.83,403.87 L100.91,404.20 L102.00,404.51 L103.08,404.77 L104.17,404.98 L105.25,405.14 L106.33,405.23 L107.42,405.25 L108.50,405.21 L109.59,405.13 L110.67,405.02 L111.75,404.87 L112.84,404.70 L113.92,404.51 L115.01,404.30 L116.09,404.10 L117.18,403.88 L118.26,403.62 L119.34,403.30 L120.43,402.94 L121.51,402.55 L122.60,402.14 L123.68,401.71 L124.76,401.28 L125.85,400.86 L126.93,400.46 L128.02,400.04 L129.10,399.60 L130.19,399.14 L131.27,398.67 L132.35,398.21 L133.44,397.76 L134.52,397.35 L135.61,396.98 L136.69,396.66 L137.77,396.37 L138.86,396.07 L139.94,395.77 L141.03,395.48 L142.11,395.19 L143.20,394.93 L144.28,394.70 L145.36,394.51 L146.45,394.36 L147.53,394.27 L148.62,394.25 L149.70,394.26 L150.78,394.28 L151.87,394.32 L152.95,394.38 L154.04,394.44 L155.12,394.52 L156.21,394.60 L157.29,394.69 L158.37,394.79 L159.46,394.89 L160.54,395.00 L161.63,395.16 L162.71,395.37 L163.79,395.62 L164.88,395.90 L165.96,396.20 L167.05,396.51 L168.13,396.83 L169.22,397.13 L170.30,397.42 L171.38,397.70 L172.47,397.94 L173.55,398.16 L174.64,398.38 L175.72,398.61 L176.80,398.84 L177.89,399.05 L178.97,399.25 L180.06,399.43 L181.14,399.57 L182.23,399.68 L183.31,399.74 L184.39,399.75 L185.48,399.73 L186.56,399.69 L187.65,399.64 L188.73,399.57 L189.81,399.50 L190.90,399.41 L191.98,399.32 L193.07,399.23 L194.15,399.13 L195.24,399.04 L196.32,398.95 L197.40,398.84 L198.49,398.72 L199.57,398.59 L200.66,398.45 L201.74,398.30 L202.82,398.15 L203.91,398.00 L204.99,397.85 L206.08,397.71 L207.16,397.58 L208.25,397.47 L209.33,397.38 L210.41,397.30 L211.50,397.25 L212.58,397.20 L213.67,397.15 L214.75,397.10 L215.83,397.05 L216.92,397.01 L218.00,396.97 L219.09,396.93 L220.17,396.90 L221.26,396.87 L222.34,396.85 L223.42,396.83 L224.51,396.81 L225.59,396.80 L226.68,396.80 L227.76,396.81 L228.84,396.82 L229.93,396.84 L231.01,396.86 L232.10,396.88 L233.18,396.91 L234.27,396.94 L235.35,396.98 L236.43,397.01 L237.52,397.05 L238.60,397.09 L239.69,397.13 L240.77,397.16 L241.85,397.20 L242.94,397.23 L244.02,397.26 L245.11,397.29 L246.19,397.32 L247.28,397.36 L248.36,397.39 L249.44,397.43 L250.53,397.47 L251.61,397.51 L252.70,397.55 L253.78,397.58 L254.86,397.62 L255.95,397.65 L257.03,397.68 L258.12,397.71 L259.20,397.73 L260.29,397.74 L261.37,397.75 L262.45,397.75 L263.54,397.75 L264.62,397.74 L265.71,397.72 L266.79,397.71 L267.87,397.69 L268.96,397.67 L270.04,397.65 L271.13,397.62 L272.21,397.60 L273.30,397.58 L274.38,397.56 L275.46,397.54 L276.55,397.52 L277.63,397.51 L278.72,397.50 L279.80,397.50 L280.88,397.50 L281.97,397.50 L283.05,397.50 L284.14,397.50 L285.22,397.50 L286.31,397.50 L287.39,397.50 L288.47,397.50 L289.56,397.50 L290.64,397.50 L291.73,397.50 L292.81,397.50 L293.89,397.50 L294.98,397.50 L296.06,397.50 L297.15,397.50 L298.23,397.50 L299.32,397.50 L300.40,397.50" fill="none" stroke="#1f8f8f" stroke-width="1.5" stroke-linejoin="round"/>
<path d="M19.60,410.10 L20.68,410.10 L21.77,410.10 L22.85,410.10 L23.94,410.10 L25.02,410.10 L26.11,410.10 L27.19,410.10 L28.27,410.10 L29.36,410.10 L30.44,410.10 L31.53,410.10 L32.61,410.10 L33.69,410.10 L34.78,410.10 L35.86,410.10 L36.95,410.10 L38.03,410.10 L39.12,410.10 L40.20,410.10 L41.28,410.10 L42.37,410.10 L43.45,410.10 L44.54,410.10 L45.62,410.10 L46.70,410.10 L47.79,409.97 L48.87,408.62 L49.96,406.67 L51.04,403.86 L52.13,400.96 L53.21,398.36 L54.29,395.79 L55.38,393.47 L56.46,391.55 L57.55,389.79 L58.63,388.34 L59.71,387.40 L60.80,386.79 L61.88,386.31 L62.97,385.86 L64.05,385.46 L65.14,385.08 L66.22,384.48 L67.30,383.14 L68.39,381.46 L69.47,378.63 L70.56,374.68 L71.64,371.16 L72.72,367.83 L73.81,365.47 L74.89,363.88 L75.98,362.74 L77.06,362.45 L78.15,362.83 L79.23,363.55 L80.31,364.49 L81.40,366.18 L82.48,368.31 L83.57,370.41 L84.65,372.53 L85.73,374.78 L86.82,377.01 L87.90,379.07 L88.99,380.84 L90.07,382.50 L91.16,384.04 L92.24,385.46 L93.32,386.78 L94.41,387.89 L95.49,388.93 L96.58,389.85 L97.66,390.59 L98.74,391.10 L99.83,391.47 L100.91,391.80 L102.00,392.11 L103.08,392.37 L104.17,392.58 L105.25,392.74 L106.33,392.83 L107.42,392.85 L108.50,392.81 L109.59,392.73 L110.67,392.62 L111.75,392.47 L112.84,392.30 L113.92,392.11 L115.01,391.90 L116.09,391.70 L117.18,391.48 L118.26,391.22 L119.34,390.90 L120.43,390.54 L121.51,390.15 L122.60,389.74 L123.68,389.31 L124.76,388.88 L125.85,388.46 L126.93,388.06 L128.02,387.64 L129.10,387.20 L130.19,386.74 L131.27,386.27 L132.35,385.81 L133.44,385.36 L134.52,384.95 L135.61,384.60 L136.69,384.28 L137.77,384.00 L138.86,383.71 L139.94,383.41 L141.03,383.13 L142.11,382.85 L143.20,382.60 L144.28,382.37 L145.36,382.18 L146.45,382.04 L147.53,381.95 L148.62,381.93 L149.70,381.94 L150.78,381.96 L151.87,382.00 L152.95,382.05 L154.04,382.12 L155.12,382.19 L156.21,382.27 L157.29,382.36 L158.37,382.46 L159.46,382.56 L160.54,382.66 L161.63,382.82 L162.71,383.03 L163.79,383.27 L164.88,383.54 L165.96,383.83 L167.05,384.14 L168.13,384.44 L169.22,384.74 L170.30,385.02 L171.38,385.30 L172.47,385.54 L173.55,385.76 L174.64,385.98 L175.72,386.21 L176.80,386.44 L177.89,386.65 L178.97,386.85 L180.06,387.03 L181.14,387.17 L182.23,387.28 L183.31,387.34 L184.39,387.35 L185.48,387.33 L186.56,387.29 L187.65,387.24 L188.73,387.17 L189.81,387.10 L190.90,387.01 L191.98,386.92 L193.07,386.83 L194.15,386.73 L195.24,386.64 L196.32,386.55 L197.40,386.44 L198.49,386.32 L199.57,386.19 L200.66,386.05 L201.74,385.90 L202.82,385.75 L203.91,385.60 L204.99,385.45 L206.08,385.31 L207.16,385.18 L208.25,385.07 L209.33,384.98 L210.41,384.91 L211.50,384.85 L212.58,384.80 L213.67,384.76 L214.75,384.71 L215.83,384.66 L216.92,384.62 L218.00,384.58 L219.09,384.55 L220.17,384.51 L221.26,384.49 L222.34,384.46 L223.42,384.44 L224.51,384.43 L225.59,384.42 L226.68,384.42 L227.76,384.43 L228.84,384.44 L229.93,384.45 L231.01,384.47 L232.10,384.50 L233.18,384.53 L234.27,384.56 L235.35,384.59 L236.43,384.63 L237.52,384.66 L238.60,384.70 L239.69,384.74 L240.77,384.77 L241.85,384.81 L242.94,384.84 L244.02,384.87 L245.11,384.90 L246.19,384.93 L247.28,384.96 L248.36,385.00 L249.44,385.03 L250.53,385.07 L251.61,385.11 L252.70,385.15 L253.78,385.18 L254.86,385.22 L255.95,385.25 L257.03,385.28 L258.12,385.31 L259.20,385.33 L260.29,385.34 L261.37,385.35 L262.45,385.35 L263.54,385.35 L264.62,385.34 L265.71,385.32 L266.79,385.31 L267.87,385.29 L268.96,385.27 L270.04,385.25 L271.13,385.22 L272.21,385.20 L273.30,385.18 L274.38,385.16 L275.46,385.14 L276.55,385.12 L277.63,385.11 L278.72,385.10 L279.80,385.10 L280.88,385.10 L281.97,385.10 L283.05,385.10 L284.14,385.10 L285.22,385.10 L286.31,385.10 L287.39,385.10 L288.47,385.10 L289.56,385.10 L290.64,385.10 L291.73,385.10 L292.81,385.10 L293.89,385.10 L294.98,385.10 L296.06,385.10 L297.15,385.10 L298.23,385.10 L299.32,385.10 L300.40,385.10" fill="none" stroke="#e83ce8" stroke-width="1.5" stroke-linejoin="round"/>
<path d="M19.60,397.70 L20.68,397.70 L21.77,397.70 L22.85,397.70 L23.94,397.70 L25.02,397.70 L26.11,397.70 L27.19,397.70 L28.27,397.70 L29.36,397.70 L30.44,397.70 L31.53,397.70 L32.61,397.70 L33.69,397.70 L34.78,397.70 L35.86,397.70 L36.95,397.70 L38.03,397.70 L39.12,397.70 L40.20,397.70 L41.28,397.70 L42.37,397.70 L43.45,397.70 L44.54,397.70 L45.62,397.70 L46.70,397.70 L47.79,397.57 L48.87,396.22 L49.96,394.27 L51.04,391.46 L52.13,388.56 L53.21,385.96 L54.29,383.39 L55.38,381.07 L56.46,379.15 L57.55,377.39 L58.63,375.94 L59.71,375.00 L60.80,374.39 L61.88,373.91 L62.97,373.46 L64.05,373.06 L65.14,372.68 L66.22,372.08 L67.30,370.74 L68.39,369.15 L69.47,366.40 L70.56,362.54 L71.64,359.12 L72.72,355.87 L73.81,353.57 L74.89,352.03 L75.98,350.91 L77.06,350.64 L78.15,351.01 L79.23,351.70 L80.31,352.62 L81.40,354.27 L82.48,356.35 L83.57,358.39 L84.65,360.46 L85.73,362.65 L86.82,364.82 L87.90,366.82 L88.99,368.55 L90.07,370.16 L91.16,371.67 L92.24,373.06 L93.32,374.38 L94.41,375.49 L95.49,376.53 L96.58,377.45 L97.66,378.19 L98.74,378.70 L99.83,379.07 L100.91,379.40 L102.00,379.71 L103.08,379.97 L104.17,380.18 L105.25,380.34 L106.33,380.43 L107.42,380.45 L108.50,380.41 L109.59,380.33 L110.67,380.22 L111.75,380.07 L112.84,379.90 L113.92,379.71 L115.01,379.50 L116.09,379.30 L117.18,379.08 L118.26,378.82 L119.34,378.50 L120.43,378.14 L121.51,377.75 L122.60,377.34 L123.68,376.91 L124.76,376.48 L125.85,376.06 L126.93,375.66 L128.02,375.24 L129.10,374.80 L130.19,374.34 L131.27,373.87 L132.35,373.41 L133.44,372.96 L134.52,372.55 L135.61,372.21 L136.69,371.90 L137.77,371.63 L138.86,371.34 L139.94,371.06 L141.03,370.78 L142.11,370.51 L143.20,370.26 L144.28,370.04 L145.36,369.86 L146.45,369.72 L147.53,369.63 L148.62,369.61 L149.70,369.62 L150.78,369.64 L151.87,369.68 L152.95,369.73 L154.04,369.80 L155.12,369.87 L156.21,369.95 L157.29,370.03 L158.37,370.13 L159.46,370.22 L160.54,370.33 L161.63,370.48 L162.71,370.68 L163.79,370.92 L164.88,371.18 L165.96,371.47 L167.05,371.76 L168.13,372.06 L169.22,372.35 L170.30,372.62 L171.38,372.90 L172.47,373.14 L173.55,373.36 L174.64,373.58 L175.72,373.81 L176.80,374.04 L177.89,374.25 L178.97,374.45 L180.06,374.63 L181.14,374.77 L182.23,374.88 L183.31,374.94 L184.39,374.95 L185.48,374.93 L186.56,374.89 L187.65,374.84 L188.73,374.77 L189.81,374.70 L190.90,374.61 L191.98,374.52 L193.07,374.43 L194.15,374.33 L195.24,374.24 L196.32,374.15 L197.40,374.04 L198.49,373.92 L199.57,373.79 L200.66,373.65 L201.74,373.50 L202.82,373.35 L203.91,373.20 L204.99,373.05 L206.08,372.91 L207.16,372.78 L208.25,372.67 L209.33,372.58 L210.41,372.51 L211.50,372.46 L212.58,372.41 L213.67,372.36 L214.75,372.32 L215.83,372.28 L216.92,372.23 L218.00,372.20 L219.09,372.16 L220.17,372.13 L221.26,372.10 L222.34,372.08 L223.42,372.06 L224.51,372.05 L225.59,372.04 L226.68,372.04 L227.76,372.04 L228.84,372.05 L229.93,372.07 L231.01,372.09 L232.10,372.11 L233.18,372.14 L234.27,372.17 L235.35,372.20 L236.43,372.24 L237.52,372.27 L238.60,372.31 L239.69,372.35 L240.77,372.38 L241.85,372.41 L242.94,372.44 L244.02,372.47 L245.11,372.50 L246.19,372.53 L247.28,372.56 L248.36,372.60 L249.44,372.63 L250.53,372.67 L251.61,372.71 L252.70,372.75 L253.78,372.78 L254.86,372.82 L255.95,372.85 L257.03,372.88 L258.12,372.91 L259.20,372.93 L260.29,372.94 L261.37,372.95 L262.45,372.95 L263.54,372.95 L264.62,372.94 L265.71,372.92 L266.79,372.91 L267.87,372.89 L268.96,372.87 L270.04,372.85 L271.13,372.82 L272.21,372.80 L273.30,372.78 L274.38,372.76 L275.46,372.74 L276.55,372.72 L277.63,372.71 L278.72,372.70 L279.80,372.70 L280.88,372.70 L281.97,372.70 L283.05,372.70 L284.14,372.70 L285.22,372.70 L286.31,372.70 L287.39,372.70 L288.47,372.70 L289.56,372.70 L290.64,372.70 L291.73,372.70 L292.81,372.70 L293.89,372.70 L294.98,372.70 L296.06,372.70 L297.15,372.70 L298.23,372.70 L299.32,372.70 L300.40,372.70" fill="none" stroke="#7f7f2c" stroke-width="1.5" stroke-linejoin="round"/>
<path d="M19.60,385.30 L20.68,385.30 L21.77,385.30 L22.85,385.30 L23.94,385.30 L25.02,385.30 L26.11,385.30 L27.19,385.30 L28.27,385.30 L29.36,385.30 L30.44,385.30 L31.53,385.30 L32.61,385.30 L33.69,385.30 L34.78,385.30 L35.86,385.30 L36.95,385.30 L38.03,385.30 L39.12,385.30 L40.20,385.30 L41.28,385.30 L42.37,385.30 L43.45,385.30 L44.54,385.30 L45.62,385.30 L46.70,385.30 L47.79,385.17 L48.87,383.82 L49.96,381.87 L51.04,379.06 L52.13,376.16 L53.21,373.56 L54.29,370.99 L55.38,368.67 L56.46,366.75 L57.55,364.99 L58.63,363.54 L59.71,362.60 L60.80,361.99 L61.88,361.51 L62.97,361.06 L64.05,360.66 L65.14,360.28 L66.22,359.68 L67.30,358.34 L68.39,356.85 L69.47,354.17 L70.56,350.41 L71.64,347.08 L72.72,343.92 L73.81,341.68 L74.89,340.17 L75.98,339.09 L77.06,338.82 L78.15,339.18 L79.23,339.86 L80.31,340.75 L81.40,342.35 L82.48,344.38 L83.57,346.37 L84.65,348.38 L85.73,350.51 L86.82,352.63 L87.90,354.58 L88.99,356.26 L90.07,357.83 L91.16,359.30 L92.24,360.66 L93.32,361.98 L94.41,363.09 L95.49,364.13 L96.58,365.05 L97.66,365.79 L98.74,366.30 L99.83,366.67 L100.91,367.00 L102.00,367.31 L103.08,367.57 L104.17,367.78 L105.25,367.94 L106.33,368.03 L107.42,368.05 L108.50,368.01 L109.59,367.93 L110.67,367.82 L111.75,367.67 L112.84,367.50 L113.92,367.31 L115.01,367.10 L116.09,366.90 L117.18,366.68 L118.26,366.42 L119.34,366.10 L120.43,365.74 L121.51,365.35 L122.60,364.94 L123.68,364.51 L124.76,364.08 L125.85,363.66 L126.93,363.26 L128.02,362.84 L129.10,362.40 L130.19,361.94 L131.27,361.47 L132.35,361.01 L133.44,360.56 L134.52,360.16 L135.61,359.82 L136.69,359.52 L137.77,359.26 L138.86,358.98 L139.94,358.70 L141.03,358.43 L142.11,358.17 L143.20,357.93 L144.28,357.71 L145.36,357.53 L146.45,357.40 L147.53,357.32 L148.62,357.29 L149.70,357.30 L150.78,357.32 L151.87,357.36 L152.95,357.41 L154.04,357.47 L155.12,357.54 L156.21,357.62 L157.29,357.70 L158.37,357.79 L159.46,357.89 L160.54,357.99 L161.63,358.14 L162.71,358.33 L163.79,358.56 L164.88,358.82 L165.96,359.10 L167.05,359.39 L168.13,359.68 L169.22,359.96 L170.30,360.23 L171.38,360.50 L172.47,360.74 L173.55,360.96 L174.64,361.18 L175.72,361.41 L176.80,361.64 L177.89,361.85 L178.97,362.05 L180.06,362.23 L181.14,362.37 L182.23,362.48 L183.31,362.54 L184.39,362.55 L185.48,362.53 L186.56,362.49 L187.65,362.44 L188.73,362.37 L189.81,362.30 L190.90,362.21 L191.98,362.12 L193.07,362.03 L194.15,361.93 L195.24,361.84 L196.32,361.75 L197.40,361.64 L198.49,361.52 L199.57,361.39 L200.66,361.25 L201.74,361.10 L202.82,360.95 L203.91,360.80 L204.99,360.65 L206.08,360.51 L207.16,360.38 L208.25,360.27 L209.33,360.19 L210.41,360.12 L211.50,360.07 L212.58,360.02 L213.67,359.97 L214.75,359.93 L215.83,359.89 L216.92,359.85 L218.00,359.81 L219.09,359.77 L220.17,359.74 L221.26,359.72 L222.34,359.69 L223.42,359.68 L224.51,359.66 L225.59,359.66 L226.68,359.66 L227.76,359.66 L228.84,359.67 L229.93,359.69 L231.01,359.71 L232.10,359.73 L233.18,359.76 L234.27,359.79 L235.35,359.82 L236.43,359.85 L237.52,359.89 L238.60,359.92 L239.69,359.95 L240.77,359.99 L241.85,360.02 L242.94,360.05 L244.02,360.08 L245.11,360.11 L246.19,360.14 L247.28,360.17 L248.36,360.20 L249.44,360.24 L250.53,360.27 L251.61,360.31 L252.70,360.35 L253.78,360.38 L254.86,360.42 L255.95,360.45 L257.03,360.48 L258.12,360.51 L259.20,360.53 L260.29,360.54 L261.37,360.55 L262.45,360.55 L263.54,360.55 L264.62,360.54 L265.71,360.52 L266.79,360.51 L267.87,360.49 L268.96,360.47 L270.04,360.45 L271.13,360.42 L272.21,360.40 L273.30,360.38 L274.38,360.36 L275.46,360.34 L276.55,360.32 L277.63,360.31 L278.72,360.30 L279.80,360.30 L280.88,360.30 L281.97,360.30 L283.05,360.30 L284.14,360.30 L285.22,360.30 L286.31,360.30 L287.39,360.30 L288.47,360.30 L289.56,360.30 L290.64,360.30 L291.73,360.30 L292.81,360.30 L293.89,360.30 L294.98,360.30 L296.06,360.30 L297.15,360.30 L298.23,360.30 L299.32,360.30 L300.40,360.30" fill="none" stroke="#f0943c" stroke-width="1.5" stroke-linejoin="round"/>
<line x1="19.6" y1="459.2" x2="46" y2="459.2" stroke="#8a8a8a" stroke-width="2.4"/>
<text x="47.9" y="456.2" font-size="7.4" text-anchor="end" fill="#1a1a1a">893 K</text>
<text x="47.9" y="443.8" font-size="7.4" text-anchor="end" fill="#1a1a1a">943 K</text>
<text x="47.9" y="431.4" font-size="7.4" text-anchor="end" fill="#1a1a1a">993 K</text>
<text x="47.9" y="419" font-size="7.4" text-anchor="end" fill="#1a1a1a">1,043 K</text>
<text x="47.9" y="406.6" font-size="7.4" text-anchor="end" fill="#1a1a1a">1,093 K</text>
<text x="47.9" y="394.2" font-size="7.4" text-anchor="end" fill="#1a1a1a">1,143 K</text>
<text x="47.9" y="381.8" font-size="7.4" text-anchor="end" fill="#1a1a1a">1,193 K</text>
<rect x="19.6" y="264.6" width="280.8" height="196.2" fill="none" stroke="#222" stroke-width="1.3"/>
<line x1="45.13" y1="460.8" x2="45.13" y2="456.6" stroke="#222" stroke-width="1.2"/>
<text transform="translate(45.13,477.60) scale(1.06,1)" font-size="12.2" text-anchor="middle" fill="#1a1a1a">2</text>
<line x1="70.65" y1="460.8" x2="70.65" y2="458.2" stroke="#222" stroke-width="1.2"/>
<line x1="96.18" y1="460.8" x2="96.18" y2="456.6" stroke="#222" stroke-width="1.2"/>
<text transform="translate(96.18,477.60) scale(1.06,1)" font-size="12.2" text-anchor="middle" fill="#1a1a1a">4</text>
<line x1="121.71" y1="460.8" x2="121.71" y2="458.2" stroke="#222" stroke-width="1.2"/>
<line x1="147.24" y1="460.8" x2="147.24" y2="456.6" stroke="#222" stroke-width="1.2"/>
<text transform="translate(147.24,477.60) scale(1.06,1)" font-size="12.2" text-anchor="middle" fill="#1a1a1a">6</text>
<line x1="172.76" y1="460.8" x2="172.76" y2="458.2" stroke="#222" stroke-width="1.2"/>
<line x1="198.29" y1="460.8" x2="198.29" y2="456.6" stroke="#222" stroke-width="1.2"/>
<text transform="translate(198.29,477.60) scale(1.06,1)" font-size="12.2" text-anchor="middle" fill="#1a1a1a">8</text>
<line x1="223.82" y1="460.8" x2="223.82" y2="458.2" stroke="#222" stroke-width="1.2"/>
<line x1="249.35" y1="460.8" x2="249.35" y2="456.6" stroke="#222" stroke-width="1.2"/>
<text transform="translate(249.35,477.60) scale(1.06,1)" font-size="12.2" text-anchor="middle" fill="#1a1a1a">10</text>
<line x1="274.87" y1="460.8" x2="274.87" y2="458.2" stroke="#222" stroke-width="1.2"/>
<line x1="300.4" y1="460.8" x2="300.4" y2="456.6" stroke="#222" stroke-width="1.2"/>
<text transform="translate(300.40,477.60) scale(1.06,1)" font-size="12.2" text-anchor="middle" fill="#1a1a1a">12</text>
<text x="160.6" y="499" font-size="12.6" text-anchor="middle" fill="#1a1a1a"><tspan font-style="italic">r</tspan><tspan dx="2.4">&#160;(&#197;)</tspan></text>
<text transform="translate(11.2,357.9) rotate(-90)" font-size="12.2" text-anchor="middle" fill="#1a1a1a">Total PDFs</text>
<rect x="120.6" y="267.8" width="169.9" height="69.8" fill="#fff" stroke="#555" stroke-width="1"/>
<polyline points="125.91,328.13 152.46,327.33 179,326.13 205.55,325.63 232.1,325.43 258.64,324.84 285.19,324.34" fill="none" stroke="#1a1ae8" stroke-width="1.1" stroke-linejoin="round"/>
<polygon points="122.31,331.01 129.51,331.01 125.91,324.61" fill="#1a1ae8"/>
<polygon points="148.86,330.21 156.06,330.21 152.46,323.81" fill="#1a1ae8"/>
<polygon points="175.4,329.01 182.6,329.01 179,322.61" fill="#1a1ae8"/>
<polygon points="201.95,328.51 209.15,328.51 205.55,322.11" fill="#1a1ae8"/>
<polygon points="228.5,328.31 235.7,328.31 232.1,321.91" fill="#1a1ae8"/>
<polygon points="255.04,327.72 262.24,327.72 258.64,321.32" fill="#1a1ae8"/>
<polygon points="281.59,327.22 288.79,327.22 285.19,320.82" fill="#1a1ae8"/>
<polyline points="125.91,310.48 152.46,310.48 179,310.18 205.55,309.68 232.1,309.48 258.64,309.18 285.19,308.68" fill="none" stroke="#ee22ee" stroke-width="1.1" stroke-linejoin="round"/>
<polygon points="122.31,307.6 129.51,307.6 125.91,314" fill="#ee22ee"/>
<polygon points="148.86,307.6 156.06,307.6 152.46,314" fill="#ee22ee"/>
<polygon points="175.4,307.3 182.6,307.3 179,313.7" fill="#ee22ee"/>
<polygon points="201.95,306.8 209.15,306.8 205.55,313.2" fill="#ee22ee"/>
<polygon points="228.5,306.6 235.7,306.6 232.1,313" fill="#ee22ee"/>
<polygon points="255.04,306.3 262.24,306.3 258.64,312.7" fill="#ee22ee"/>
<polygon points="281.59,305.8 288.79,305.8 285.19,312.2" fill="#ee22ee"/>
<polyline points="125.91,297.51 152.46,297.42 179,297.22 205.55,297.12 232.1,297.12 258.64,297.02 285.19,296.92" fill="none" stroke="#000" stroke-width="1.1" stroke-linejoin="round"/>
<rect x="123.11" y="294.71" width="5.6" height="5.6" fill="#000"/>
<rect x="149.66" y="294.62" width="5.6" height="5.6" fill="#000"/>
<rect x="176.2" y="294.42" width="5.6" height="5.6" fill="#000"/>
<rect x="202.75" y="294.32" width="5.6" height="5.6" fill="#000"/>
<rect x="229.3" y="294.32" width="5.6" height="5.6" fill="#000"/>
<rect x="255.84" y="294.22" width="5.6" height="5.6" fill="#000"/>
<rect x="282.39" y="294.12" width="5.6" height="5.6" fill="#000"/>
<polyline points="125.91,279.77 152.46,279.77 179,279.77 205.55,280.26 232.1,280.46 258.64,280.26 285.19,280.56" fill="none" stroke="#f01010" stroke-width="1.1" stroke-linejoin="round"/>
<circle cx="125.91" cy="279.77" r="3.3" fill="#f01010"/>
<circle cx="152.46" cy="279.77" r="3.3" fill="#f01010"/>
<circle cx="179" cy="279.77" r="3.3" fill="#f01010"/>
<circle cx="205.55" cy="280.26" r="3.3" fill="#f01010"/>
<circle cx="232.1" cy="280.46" r="3.3" fill="#f01010"/>
<circle cx="258.64" cy="280.26" r="3.3" fill="#f01010"/>
<circle cx="285.19" cy="280.56" r="3.3" fill="#f01010"/>
<line x1="125.91" y1="337.6" x2="125.91" y2="334.6" stroke="#333" stroke-width="0.9"/>
<text transform="translate(125.91,347.00) scale(1.06,1)" font-size="8.6" text-anchor="middle" fill="#1a1a1a">893</text>
<line x1="139.18" y1="337.6" x2="139.18" y2="335.8" stroke="#333" stroke-width="0.9"/>
<line x1="152.46" y1="337.6" x2="152.46" y2="334.6" stroke="#333" stroke-width="0.9"/>
<text transform="translate(152.46,347.00) scale(1.06,1)" font-size="8.6" text-anchor="middle" fill="#1a1a1a">943</text>
<line x1="165.73" y1="337.6" x2="165.73" y2="335.8" stroke="#333" stroke-width="0.9"/>
<line x1="179" y1="337.6" x2="179" y2="334.6" stroke="#333" stroke-width="0.9"/>
<text transform="translate(179.00,347.00) scale(1.06,1)" font-size="8.6" text-anchor="middle" fill="#1a1a1a">993</text>
<line x1="192.28" y1="337.6" x2="192.28" y2="335.8" stroke="#333" stroke-width="0.9"/>
<line x1="205.55" y1="337.6" x2="205.55" y2="334.6" stroke="#333" stroke-width="0.9"/>
<text transform="translate(205.55,347.00) scale(1.06,1)" font-size="8.6" text-anchor="middle" fill="#1a1a1a">1,043</text>
<line x1="218.82" y1="337.6" x2="218.82" y2="335.8" stroke="#333" stroke-width="0.9"/>
<line x1="232.1" y1="337.6" x2="232.1" y2="334.6" stroke="#333" stroke-width="0.9"/>
<text transform="translate(232.10,347.00) scale(1.06,1)" font-size="8.6" text-anchor="middle" fill="#1a1a1a">1,093</text>
<line x1="245.37" y1="337.6" x2="245.37" y2="335.8" stroke="#333" stroke-width="0.9"/>
<line x1="258.64" y1="337.6" x2="258.64" y2="334.6" stroke="#333" stroke-width="0.9"/>
<text transform="translate(258.64,347.00) scale(1.06,1)" font-size="8.6" text-anchor="middle" fill="#1a1a1a">1,143</text>
<line x1="271.92" y1="337.6" x2="271.92" y2="335.8" stroke="#333" stroke-width="0.9"/>
<line x1="285.19" y1="337.6" x2="285.19" y2="334.6" stroke="#333" stroke-width="0.9"/>
<text transform="translate(285.19,347.00) scale(1.06,1)" font-size="8.6" text-anchor="middle" fill="#1a1a1a">1,193</text>
<line x1="120.6" y1="337.6" x2="123.6" y2="337.6" stroke="#333" stroke-width="0.9"/>
<text transform="translate(116.00,341.40) scale(1.06,1)" font-size="8.6" text-anchor="end" fill="#1a1a1a">10</text>
<line x1="120.6" y1="327.63" x2="122.4" y2="327.63" stroke="#333" stroke-width="0.9"/>
<line x1="120.6" y1="317.66" x2="123.6" y2="317.66" stroke="#333" stroke-width="0.9"/>
<text transform="translate(116.00,321.46) scale(1.06,1)" font-size="8.6" text-anchor="end" fill="#1a1a1a">12</text>
<line x1="120.6" y1="307.69" x2="122.4" y2="307.69" stroke="#333" stroke-width="0.9"/>
<line x1="120.6" y1="297.71" x2="123.6" y2="297.71" stroke="#333" stroke-width="0.9"/>
<text transform="translate(116.00,301.51) scale(1.06,1)" font-size="8.6" text-anchor="end" fill="#1a1a1a">14</text>
<line x1="120.6" y1="287.74" x2="122.4" y2="287.74" stroke="#333" stroke-width="0.9"/>
<line x1="120.6" y1="277.77" x2="123.6" y2="277.77" stroke="#333" stroke-width="0.9"/>
<text transform="translate(116.00,281.57) scale(1.06,1)" font-size="8.6" text-anchor="end" fill="#1a1a1a">16</text>
<text x="206" y="358.2" font-size="8.6" text-anchor="middle" fill="#1a1a1a"><tspan font-style="italic">T</tspan> (K)</text>
<text transform="translate(101.2,302.8) rotate(-90)" font-size="8.6" text-anchor="middle" fill="#1a1a1a">CN</text>
<text x="127.8" y="276.8" font-size="8.6" fill="#1a1a1a">La-centred</text>
<text x="165.9" y="292.2" font-size="8.6" fill="#1a1a1a">Average-centred</text>
<text x="214.2" y="305.6" font-size="8.6" fill="#1a1a1a">Al-centred</text>
<text x="239.9" y="320.2" font-size="8.6" fill="#1a1a1a">Ni-centred</text>
<text x="323.5" y="267.5" font-size="21.5" font-weight="bold" fill="#000">d</text>
<polyline points="414.24,403.92 455.62,405.42 497,376.28 513.55,370.6 530.11,386.21 538.38,375.56 554.94,379.29 579.77,383.4 621.15,373.6 662.53,375.3" fill="none" stroke="#1f8c8c" stroke-width="1.3" stroke-linejoin="round"/>
<line x1="414.24" y1="401.32" x2="414.24" y2="406.52" stroke="#1f8c8c" stroke-width="1.4"/>
<line x1="411.04" y1="401.32" x2="417.44" y2="401.32" stroke="#1f8c8c" stroke-width="1.4"/>
<line x1="411.04" y1="406.52" x2="417.44" y2="406.52" stroke="#1f8c8c" stroke-width="1.4"/>
<circle cx="414.24" cy="403.92" r="1.6" fill="#1f8c8c"/>
<line x1="455.62" y1="402.82" x2="455.62" y2="408.02" stroke="#1f8c8c" stroke-width="1.4"/>
<line x1="452.42" y1="402.82" x2="458.82" y2="402.82" stroke="#1f8c8c" stroke-width="1.4"/>
<line x1="452.42" y1="408.02" x2="458.82" y2="408.02" stroke="#1f8c8c" stroke-width="1.4"/>
<circle cx="455.62" cy="405.42" r="1.6" fill="#1f8c8c"/>
<line x1="497" y1="373.68" x2="497" y2="378.88" stroke="#1f8c8c" stroke-width="1.4"/>
<line x1="493.8" y1="373.68" x2="500.2" y2="373.68" stroke="#1f8c8c" stroke-width="1.4"/>
<line x1="493.8" y1="378.88" x2="500.2" y2="378.88" stroke="#1f8c8c" stroke-width="1.4"/>
<circle cx="497" cy="376.28" r="1.6" fill="#1f8c8c"/>
<line x1="513.55" y1="368" x2="513.55" y2="373.2" stroke="#1f8c8c" stroke-width="1.4"/>
<line x1="510.35" y1="368" x2="516.75" y2="368" stroke="#1f8c8c" stroke-width="1.4"/>
<line x1="510.35" y1="373.2" x2="516.75" y2="373.2" stroke="#1f8c8c" stroke-width="1.4"/>
<circle cx="513.55" cy="370.6" r="1.6" fill="#1f8c8c"/>
<line x1="530.11" y1="383.61" x2="530.11" y2="388.81" stroke="#1f8c8c" stroke-width="1.4"/>
<line x1="526.91" y1="383.61" x2="533.31" y2="383.61" stroke="#1f8c8c" stroke-width="1.4"/>
<line x1="526.91" y1="388.81" x2="533.31" y2="388.81" stroke="#1f8c8c" stroke-width="1.4"/>
<circle cx="530.11" cy="386.21" r="1.6" fill="#1f8c8c"/>
<line x1="538.38" y1="372.96" x2="538.38" y2="378.16" stroke="#1f8c8c" stroke-width="1.4"/>
<line x1="535.18" y1="372.96" x2="541.58" y2="372.96" stroke="#1f8c8c" stroke-width="1.4"/>
<line x1="535.18" y1="378.16" x2="541.58" y2="378.16" stroke="#1f8c8c" stroke-width="1.4"/>
<circle cx="538.38" cy="375.56" r="1.6" fill="#1f8c8c"/>
<line x1="554.94" y1="376.69" x2="554.94" y2="381.89" stroke="#1f8c8c" stroke-width="1.4"/>
<line x1="551.74" y1="376.69" x2="558.14" y2="376.69" stroke="#1f8c8c" stroke-width="1.4"/>
<line x1="551.74" y1="381.89" x2="558.14" y2="381.89" stroke="#1f8c8c" stroke-width="1.4"/>
<circle cx="554.94" cy="379.29" r="1.6" fill="#1f8c8c"/>
<line x1="579.77" y1="380.8" x2="579.77" y2="386" stroke="#1f8c8c" stroke-width="1.4"/>
<line x1="576.57" y1="380.8" x2="582.97" y2="380.8" stroke="#1f8c8c" stroke-width="1.4"/>
<line x1="576.57" y1="386" x2="582.97" y2="386" stroke="#1f8c8c" stroke-width="1.4"/>
<circle cx="579.77" cy="383.4" r="1.6" fill="#1f8c8c"/>
<line x1="621.15" y1="371" x2="621.15" y2="376.2" stroke="#1f8c8c" stroke-width="1.4"/>
<line x1="617.95" y1="371" x2="624.35" y2="371" stroke="#1f8c8c" stroke-width="1.4"/>
<line x1="617.95" y1="376.2" x2="624.35" y2="376.2" stroke="#1f8c8c" stroke-width="1.4"/>
<circle cx="621.15" cy="373.6" r="1.6" fill="#1f8c8c"/>
<line x1="662.53" y1="372.7" x2="662.53" y2="377.9" stroke="#1f8c8c" stroke-width="1.4"/>
<line x1="659.33" y1="372.7" x2="665.73" y2="372.7" stroke="#1f8c8c" stroke-width="1.4"/>
<line x1="659.33" y1="377.9" x2="665.73" y2="377.9" stroke="#1f8c8c" stroke-width="1.4"/>
<circle cx="662.53" cy="375.3" r="1.6" fill="#1f8c8c"/>
<polyline points="414.24,343.35 455.62,346.42 497,350.54 513.55,344.2 530.11,326.5 538.38,324.21 554.94,341.79 579.77,334.73 621.15,345.31 662.53,330.48" fill="none" stroke="#1a1ae6" stroke-width="1.3" stroke-linejoin="round"/>
<line x1="414.24" y1="340.35" x2="414.24" y2="346.35" stroke="#1a1ae6" stroke-width="1.4"/>
<line x1="411.04" y1="340.35" x2="417.44" y2="340.35" stroke="#1a1ae6" stroke-width="1.4"/>
<line x1="411.04" y1="346.35" x2="417.44" y2="346.35" stroke="#1a1ae6" stroke-width="1.4"/>
<circle cx="414.24" cy="343.35" r="1.6" fill="#1a1ae6"/>
<line x1="455.62" y1="342.22" x2="455.62" y2="350.62" stroke="#1a1ae6" stroke-width="1.4"/>
<line x1="452.42" y1="342.22" x2="458.82" y2="342.22" stroke="#1a1ae6" stroke-width="1.4"/>
<line x1="452.42" y1="350.62" x2="458.82" y2="350.62" stroke="#1a1ae6" stroke-width="1.4"/>
<circle cx="455.62" cy="346.42" r="1.6" fill="#1a1ae6"/>
<line x1="497" y1="346.54" x2="497" y2="354.54" stroke="#1a1ae6" stroke-width="1.4"/>
<line x1="493.8" y1="346.54" x2="500.2" y2="346.54" stroke="#1a1ae6" stroke-width="1.4"/>
<line x1="493.8" y1="354.54" x2="500.2" y2="354.54" stroke="#1a1ae6" stroke-width="1.4"/>
<circle cx="497" cy="350.54" r="1.6" fill="#1a1ae6"/>
<line x1="513.55" y1="340.6" x2="513.55" y2="347.8" stroke="#1a1ae6" stroke-width="1.4"/>
<line x1="510.35" y1="340.6" x2="516.75" y2="340.6" stroke="#1a1ae6" stroke-width="1.4"/>
<line x1="510.35" y1="347.8" x2="516.75" y2="347.8" stroke="#1a1ae6" stroke-width="1.4"/>
<circle cx="513.55" cy="344.2" r="1.6" fill="#1a1ae6"/>
<line x1="530.11" y1="322.9" x2="530.11" y2="330.1" stroke="#1a1ae6" stroke-width="1.4"/>
<line x1="526.91" y1="322.9" x2="533.31" y2="322.9" stroke="#1a1ae6" stroke-width="1.4"/>
<line x1="526.91" y1="330.1" x2="533.31" y2="330.1" stroke="#1a1ae6" stroke-width="1.4"/>
<circle cx="530.11" cy="326.5" r="1.6" fill="#1a1ae6"/>
<line x1="538.38" y1="320.61" x2="538.38" y2="327.81" stroke="#1a1ae6" stroke-width="1.4"/>
<line x1="535.18" y1="320.61" x2="541.58" y2="320.61" stroke="#1a1ae6" stroke-width="1.4"/>
<line x1="535.18" y1="327.81" x2="541.58" y2="327.81" stroke="#1a1ae6" stroke-width="1.4"/>
<circle cx="538.38" cy="324.21" r="1.6" fill="#1a1ae6"/>
<line x1="554.94" y1="337.79" x2="554.94" y2="345.79" stroke="#1a1ae6" stroke-width="1.4"/>
<line x1="551.74" y1="337.79" x2="558.14" y2="337.79" stroke="#1a1ae6" stroke-width="1.4"/>
<line x1="551.74" y1="345.79" x2="558.14" y2="345.79" stroke="#1a1ae6" stroke-width="1.4"/>
<circle cx="554.94" cy="341.79" r="1.6" fill="#1a1ae6"/>
<line x1="579.77" y1="330.73" x2="579.77" y2="338.73" stroke="#1a1ae6" stroke-width="1.4"/>
<line x1="576.57" y1="330.73" x2="582.97" y2="330.73" stroke="#1a1ae6" stroke-width="1.4"/>
<line x1="576.57" y1="338.73" x2="582.97" y2="338.73" stroke="#1a1ae6" stroke-width="1.4"/>
<circle cx="579.77" cy="334.73" r="1.6" fill="#1a1ae6"/>
<line x1="621.15" y1="341.11" x2="621.15" y2="349.51" stroke="#1a1ae6" stroke-width="1.4"/>
<line x1="617.95" y1="341.11" x2="624.35" y2="341.11" stroke="#1a1ae6" stroke-width="1.4"/>
<line x1="617.95" y1="349.51" x2="624.35" y2="349.51" stroke="#1a1ae6" stroke-width="1.4"/>
<circle cx="621.15" cy="345.31" r="1.6" fill="#1a1ae6"/>
<line x1="662.53" y1="326.28" x2="662.53" y2="334.68" stroke="#1a1ae6" stroke-width="1.4"/>
<line x1="659.33" y1="326.28" x2="665.73" y2="326.28" stroke="#1a1ae6" stroke-width="1.4"/>
<line x1="659.33" y1="334.68" x2="665.73" y2="334.68" stroke="#1a1ae6" stroke-width="1.4"/>
<circle cx="662.53" cy="330.48" r="1.6" fill="#1a1ae6"/>
<polyline points="414.24,287.62 455.62,288.6 497,275.93 513.55,272.86 530.11,273.05 538.38,283.44 554.94,278.02 579.77,273.97 621.15,273.97 662.53,272.14" fill="none" stroke="#e8161c" stroke-width="1.3" stroke-linejoin="round"/>
<line x1="414.24" y1="285.22" x2="414.24" y2="290.02" stroke="#e8161c" stroke-width="1.4"/>
<line x1="411.04" y1="285.22" x2="417.44" y2="285.22" stroke="#e8161c" stroke-width="1.4"/>
<line x1="411.04" y1="290.02" x2="417.44" y2="290.02" stroke="#e8161c" stroke-width="1.4"/>
<circle cx="414.24" cy="287.62" r="1.6" fill="#e8161c"/>
<line x1="455.62" y1="286.2" x2="455.62" y2="291" stroke="#e8161c" stroke-width="1.4"/>
<line x1="452.42" y1="286.2" x2="458.82" y2="286.2" stroke="#e8161c" stroke-width="1.4"/>
<line x1="452.42" y1="291" x2="458.82" y2="291" stroke="#e8161c" stroke-width="1.4"/>
<circle cx="455.62" cy="288.6" r="1.6" fill="#e8161c"/>
<line x1="497" y1="273.53" x2="497" y2="278.33" stroke="#e8161c" stroke-width="1.4"/>
<line x1="493.8" y1="273.53" x2="500.2" y2="273.53" stroke="#e8161c" stroke-width="1.4"/>
<line x1="493.8" y1="278.33" x2="500.2" y2="278.33" stroke="#e8161c" stroke-width="1.4"/>
<circle cx="497" cy="275.93" r="1.6" fill="#e8161c"/>
<line x1="513.55" y1="270.46" x2="513.55" y2="275.26" stroke="#e8161c" stroke-width="1.4"/>
<line x1="510.35" y1="270.46" x2="516.75" y2="270.46" stroke="#e8161c" stroke-width="1.4"/>
<line x1="510.35" y1="275.26" x2="516.75" y2="275.26" stroke="#e8161c" stroke-width="1.4"/>
<circle cx="513.55" cy="272.86" r="1.6" fill="#e8161c"/>
<line x1="530.11" y1="270.65" x2="530.11" y2="275.45" stroke="#e8161c" stroke-width="1.4"/>
<line x1="526.91" y1="270.65" x2="533.31" y2="270.65" stroke="#e8161c" stroke-width="1.4"/>
<line x1="526.91" y1="275.45" x2="533.31" y2="275.45" stroke="#e8161c" stroke-width="1.4"/>
<circle cx="530.11" cy="273.05" r="1.6" fill="#e8161c"/>
<line x1="538.38" y1="281.04" x2="538.38" y2="285.84" stroke="#e8161c" stroke-width="1.4"/>
<line x1="535.18" y1="281.04" x2="541.58" y2="281.04" stroke="#e8161c" stroke-width="1.4"/>
<line x1="535.18" y1="285.84" x2="541.58" y2="285.84" stroke="#e8161c" stroke-width="1.4"/>
<circle cx="538.38" cy="283.44" r="1.6" fill="#e8161c"/>
<line x1="554.94" y1="275.62" x2="554.94" y2="280.42" stroke="#e8161c" stroke-width="1.4"/>
<line x1="551.74" y1="275.62" x2="558.14" y2="275.62" stroke="#e8161c" stroke-width="1.4"/>
<line x1="551.74" y1="280.42" x2="558.14" y2="280.42" stroke="#e8161c" stroke-width="1.4"/>
<circle cx="554.94" cy="278.02" r="1.6" fill="#e8161c"/>
<line x1="579.77" y1="271.57" x2="579.77" y2="276.37" stroke="#e8161c" stroke-width="1.4"/>
<line x1="576.57" y1="271.57" x2="582.97" y2="271.57" stroke="#e8161c" stroke-width="1.4"/>
<line x1="576.57" y1="276.37" x2="582.97" y2="276.37" stroke="#e8161c" stroke-width="1.4"/>
<circle cx="579.77" cy="273.97" r="1.6" fill="#e8161c"/>
<line x1="621.15" y1="271.57" x2="621.15" y2="276.37" stroke="#e8161c" stroke-width="1.4"/>
<line x1="617.95" y1="271.57" x2="624.35" y2="271.57" stroke="#e8161c" stroke-width="1.4"/>
<line x1="617.95" y1="276.37" x2="624.35" y2="276.37" stroke="#e8161c" stroke-width="1.4"/>
<circle cx="621.15" cy="273.97" r="1.6" fill="#e8161c"/>
<line x1="662.53" y1="269.74" x2="662.53" y2="274.54" stroke="#e8161c" stroke-width="1.4"/>
<line x1="659.33" y1="269.74" x2="665.73" y2="269.74" stroke="#e8161c" stroke-width="1.4"/>
<line x1="659.33" y1="274.54" x2="665.73" y2="274.54" stroke="#e8161c" stroke-width="1.4"/>
<circle cx="662.53" cy="272.14" r="1.6" fill="#e8161c"/>
<polyline points="414.24,336.17 455.62,337.93 497,321.92 513.55,317.81 530.11,320.49 538.38,321.92 554.94,323.1 579.77,321.4 621.15,319.11 662.53,317.22" fill="none" stroke="#111" stroke-width="1.3" stroke-linejoin="round"/>
<line x1="414.24" y1="333.97" x2="414.24" y2="338.37" stroke="#111" stroke-width="1.4"/>
<line x1="411.04" y1="333.97" x2="417.44" y2="333.97" stroke="#111" stroke-width="1.4"/>
<line x1="411.04" y1="338.37" x2="417.44" y2="338.37" stroke="#111" stroke-width="1.4"/>
<circle cx="414.24" cy="336.17" r="1.6" fill="#111"/>
<line x1="455.62" y1="335.73" x2="455.62" y2="340.13" stroke="#111" stroke-width="1.4"/>
<line x1="452.42" y1="335.73" x2="458.82" y2="335.73" stroke="#111" stroke-width="1.4"/>
<line x1="452.42" y1="340.13" x2="458.82" y2="340.13" stroke="#111" stroke-width="1.4"/>
<circle cx="455.62" cy="337.93" r="1.6" fill="#111"/>
<line x1="497" y1="319.72" x2="497" y2="324.12" stroke="#111" stroke-width="1.4"/>
<line x1="493.8" y1="319.72" x2="500.2" y2="319.72" stroke="#111" stroke-width="1.4"/>
<line x1="493.8" y1="324.12" x2="500.2" y2="324.12" stroke="#111" stroke-width="1.4"/>
<circle cx="497" cy="321.92" r="1.6" fill="#111"/>
<line x1="513.55" y1="315.61" x2="513.55" y2="320.01" stroke="#111" stroke-width="1.4"/>
<line x1="510.35" y1="315.61" x2="516.75" y2="315.61" stroke="#111" stroke-width="1.4"/>
<line x1="510.35" y1="320.01" x2="516.75" y2="320.01" stroke="#111" stroke-width="1.4"/>
<circle cx="513.55" cy="317.81" r="1.6" fill="#111"/>
<line x1="530.11" y1="318.29" x2="530.11" y2="322.69" stroke="#111" stroke-width="1.4"/>
<line x1="526.91" y1="318.29" x2="533.31" y2="318.29" stroke="#111" stroke-width="1.4"/>
<line x1="526.91" y1="322.69" x2="533.31" y2="322.69" stroke="#111" stroke-width="1.4"/>
<circle cx="530.11" cy="320.49" r="1.6" fill="#111"/>
<line x1="538.38" y1="319.72" x2="538.38" y2="324.12" stroke="#111" stroke-width="1.4"/>
<line x1="535.18" y1="319.72" x2="541.58" y2="319.72" stroke="#111" stroke-width="1.4"/>
<line x1="535.18" y1="324.12" x2="541.58" y2="324.12" stroke="#111" stroke-width="1.4"/>
<circle cx="538.38" cy="321.92" r="1.6" fill="#111"/>
<line x1="554.94" y1="320.9" x2="554.94" y2="325.3" stroke="#111" stroke-width="1.4"/>
<line x1="551.74" y1="320.9" x2="558.14" y2="320.9" stroke="#111" stroke-width="1.4"/>
<line x1="551.74" y1="325.3" x2="558.14" y2="325.3" stroke="#111" stroke-width="1.4"/>
<circle cx="554.94" cy="323.1" r="1.6" fill="#111"/>
<line x1="579.77" y1="319.2" x2="579.77" y2="323.6" stroke="#111" stroke-width="1.4"/>
<line x1="576.57" y1="319.2" x2="582.97" y2="319.2" stroke="#111" stroke-width="1.4"/>
<line x1="576.57" y1="323.6" x2="582.97" y2="323.6" stroke="#111" stroke-width="1.4"/>
<circle cx="579.77" cy="321.4" r="1.6" fill="#111"/>
<line x1="621.15" y1="316.91" x2="621.15" y2="321.31" stroke="#111" stroke-width="1.4"/>
<line x1="617.95" y1="316.91" x2="624.35" y2="316.91" stroke="#111" stroke-width="1.4"/>
<line x1="617.95" y1="321.31" x2="624.35" y2="321.31" stroke="#111" stroke-width="1.4"/>
<circle cx="621.15" cy="319.11" r="1.6" fill="#111"/>
<line x1="662.53" y1="315.02" x2="662.53" y2="319.42" stroke="#111" stroke-width="1.4"/>
<line x1="659.33" y1="315.02" x2="665.73" y2="315.02" stroke="#111" stroke-width="1.4"/>
<line x1="659.33" y1="319.42" x2="665.73" y2="319.42" stroke="#111" stroke-width="1.4"/>
<circle cx="662.53" cy="317.22" r="1.6" fill="#111"/>
<rect x="395.2" y="264.3" width="281.4" height="196" fill="none" stroke="#111" stroke-width="1.3"/>
<line x1="403.48" y1="460.3" x2="403.48" y2="457.9" stroke="#111" stroke-width="1.2"/>
<line x1="411.75" y1="460.3" x2="411.75" y2="457.9" stroke="#111" stroke-width="1.2"/>
<line x1="420.03" y1="460.3" x2="420.03" y2="455.7" stroke="#111" stroke-width="1.2"/>
<line x1="428.31" y1="460.3" x2="428.31" y2="457.9" stroke="#111" stroke-width="1.2"/>
<line x1="436.58" y1="460.3" x2="436.58" y2="457.9" stroke="#111" stroke-width="1.2"/>
<line x1="444.86" y1="460.3" x2="444.86" y2="457.9" stroke="#111" stroke-width="1.2"/>
<line x1="453.14" y1="460.3" x2="453.14" y2="457.9" stroke="#111" stroke-width="1.2"/>
<line x1="461.41" y1="460.3" x2="461.41" y2="455.7" stroke="#111" stroke-width="1.2"/>
<line x1="469.69" y1="460.3" x2="469.69" y2="457.9" stroke="#111" stroke-width="1.2"/>
<line x1="477.96" y1="460.3" x2="477.96" y2="457.9" stroke="#111" stroke-width="1.2"/>
<line x1="486.24" y1="460.3" x2="486.24" y2="457.9" stroke="#111" stroke-width="1.2"/>
<line x1="494.52" y1="460.3" x2="494.52" y2="457.9" stroke="#111" stroke-width="1.2"/>
<line x1="502.79" y1="460.3" x2="502.79" y2="455.7" stroke="#111" stroke-width="1.2"/>
<line x1="511.07" y1="460.3" x2="511.07" y2="457.9" stroke="#111" stroke-width="1.2"/>
<line x1="519.35" y1="460.3" x2="519.35" y2="457.9" stroke="#111" stroke-width="1.2"/>
<line x1="527.62" y1="460.3" x2="527.62" y2="457.9" stroke="#111" stroke-width="1.2"/>
<line x1="535.9" y1="460.3" x2="535.9" y2="457.9" stroke="#111" stroke-width="1.2"/>
<line x1="544.18" y1="460.3" x2="544.18" y2="455.7" stroke="#111" stroke-width="1.2"/>
<line x1="552.45" y1="460.3" x2="552.45" y2="457.9" stroke="#111" stroke-width="1.2"/>
<line x1="560.73" y1="460.3" x2="560.73" y2="457.9" stroke="#111" stroke-width="1.2"/>
<line x1="569.01" y1="460.3" x2="569.01" y2="457.9" stroke="#111" stroke-width="1.2"/>
<line x1="577.28" y1="460.3" x2="577.28" y2="457.9" stroke="#111" stroke-width="1.2"/>
<line x1="585.56" y1="460.3" x2="585.56" y2="455.7" stroke="#111" stroke-width="1.2"/>
<line x1="593.84" y1="460.3" x2="593.84" y2="457.9" stroke="#111" stroke-width="1.2"/>
<line x1="602.11" y1="460.3" x2="602.11" y2="457.9" stroke="#111" stroke-width="1.2"/>
<line x1="610.39" y1="460.3" x2="610.39" y2="457.9" stroke="#111" stroke-width="1.2"/>
<line x1="618.66" y1="460.3" x2="618.66" y2="457.9" stroke="#111" stroke-width="1.2"/>
<line x1="626.94" y1="460.3" x2="626.94" y2="455.7" stroke="#111" stroke-width="1.2"/>
<line x1="635.22" y1="460.3" x2="635.22" y2="457.9" stroke="#111" stroke-width="1.2"/>
<line x1="643.49" y1="460.3" x2="643.49" y2="457.9" stroke="#111" stroke-width="1.2"/>
<line x1="651.77" y1="460.3" x2="651.77" y2="457.9" stroke="#111" stroke-width="1.2"/>
<line x1="660.05" y1="460.3" x2="660.05" y2="457.9" stroke="#111" stroke-width="1.2"/>
<line x1="668.32" y1="460.3" x2="668.32" y2="455.7" stroke="#111" stroke-width="1.2"/>
<text transform="translate(420.03,477.60) scale(1.06,1)" font-size="12.2" text-anchor="middle" fill="#1a1a1a">900</text>
<text transform="translate(461.41,477.60) scale(1.06,1)" font-size="12.2" text-anchor="middle" fill="#1a1a1a">950</text>
<text transform="translate(502.79,477.60) scale(1.06,1)" font-size="12.2" text-anchor="middle" fill="#1a1a1a">1,000</text>
<text transform="translate(544.18,477.60) scale(1.06,1)" font-size="12.2" text-anchor="middle" fill="#1a1a1a">1,050</text>
<text transform="translate(585.56,477.60) scale(1.06,1)" font-size="12.2" text-anchor="middle" fill="#1a1a1a">1,100</text>
<text transform="translate(626.94,477.60) scale(1.06,1)" font-size="12.2" text-anchor="middle" fill="#1a1a1a">1,150</text>
<text transform="translate(668.32,477.60) scale(1.06,1)" font-size="12.2" text-anchor="middle" fill="#1a1a1a">1,200</text>
<line x1="395.2" y1="264.3" x2="400" y2="264.3" stroke="#111" stroke-width="1.2"/>
<text transform="translate(389.00,268.70) scale(1.08,1)" font-size="12.2" text-anchor="end" fill="#1a1a1a">&#8722;0.010</text>
<line x1="395.2" y1="280.63" x2="397.7" y2="280.63" stroke="#111" stroke-width="1.2"/>
<line x1="395.2" y1="296.97" x2="400" y2="296.97" stroke="#111" stroke-width="1.2"/>
<text transform="translate(389.00,301.37) scale(1.08,1)" font-size="12.2" text-anchor="end" fill="#1a1a1a">&#8722;0.015</text>
<line x1="395.2" y1="313.3" x2="397.7" y2="313.3" stroke="#111" stroke-width="1.2"/>
<line x1="395.2" y1="329.63" x2="400" y2="329.63" stroke="#111" stroke-width="1.2"/>
<text transform="translate(389.00,334.03) scale(1.08,1)" font-size="12.2" text-anchor="end" fill="#1a1a1a">&#8722;0.020</text>
<line x1="395.2" y1="345.97" x2="397.7" y2="345.97" stroke="#111" stroke-width="1.2"/>
<line x1="395.2" y1="362.3" x2="400" y2="362.3" stroke="#111" stroke-width="1.2"/>
<text transform="translate(389.00,366.70) scale(1.08,1)" font-size="12.2" text-anchor="end" fill="#1a1a1a">&#8722;0.025</text>
<line x1="395.2" y1="378.63" x2="397.7" y2="378.63" stroke="#111" stroke-width="1.2"/>
<line x1="395.2" y1="394.97" x2="400" y2="394.97" stroke="#111" stroke-width="1.2"/>
<text transform="translate(389.00,399.37) scale(1.08,1)" font-size="12.2" text-anchor="end" fill="#1a1a1a">&#8722;0.030</text>
<line x1="395.2" y1="411.3" x2="397.7" y2="411.3" stroke="#111" stroke-width="1.2"/>
<line x1="395.2" y1="427.63" x2="400" y2="427.63" stroke="#111" stroke-width="1.2"/>
<text transform="translate(389.00,432.03) scale(1.08,1)" font-size="12.2" text-anchor="end" fill="#1a1a1a">&#8722;0.035</text>
<line x1="395.2" y1="443.97" x2="397.7" y2="443.97" stroke="#111" stroke-width="1.2"/>
<line x1="395.2" y1="460.3" x2="400" y2="460.3" stroke="#111" stroke-width="1.2"/>
<text transform="translate(389.00,464.70) scale(1.08,1)" font-size="12.2" text-anchor="end" fill="#1a1a1a">&#8722;0.040</text>
<text x="536" y="497.5" font-size="12.5" text-anchor="middle" fill="#1a1a1a"><tspan font-style="italic">T</tspan> (K)</text>
<text transform="translate(338.4,364.6) rotate(-90)" font-size="12.8" text-anchor="middle" fill="#1a1a1a"><tspan font-style="italic">W</tspan><tspan font-size="9" dy="4.4">6</tspan></text>
<path d="M327.3,363.1 L325.5,364.9 L327.3,366.7" fill="none" stroke="#1a1a1a" stroke-width="0.9"/>
<line x1="593.1" y1="401.2" x2="616.2" y2="401.2" stroke="#111" stroke-width="1.3"/>
<circle cx="604.8" cy="401.2" r="1.6" fill="#111"/>
<text x="621.2" y="405.7" font-size="12.5" fill="#111">Average</text>
<line x1="593.1" y1="415.85" x2="616.2" y2="415.85" stroke="#e8161c" stroke-width="1.3"/>
<circle cx="604.8" cy="415.85" r="1.6" fill="#e8161c"/>
<text x="621.2" y="420.35" font-size="12.5" fill="#111">La</text>
<line x1="593.1" y1="430.5" x2="616.2" y2="430.5" stroke="#1a1ae6" stroke-width="1.3"/>
<polygon points="603.1,431.94 606.5,431.94 604.8,428.74" fill="#1a1ae6"/>
<text x="621.2" y="435" font-size="12.5" fill="#111">Ni</text>
<line x1="593.1" y1="445.15" x2="616.2" y2="445.15" stroke="#1f8c8c" stroke-width="1.3"/>
<polygon points="603.1,443.71 606.5,443.71 604.8,446.91" fill="#1f8c8c"/>
<text x="621.2" y="449.65" font-size="12.5" fill="#111">Al</text>
</svg></body></html>
